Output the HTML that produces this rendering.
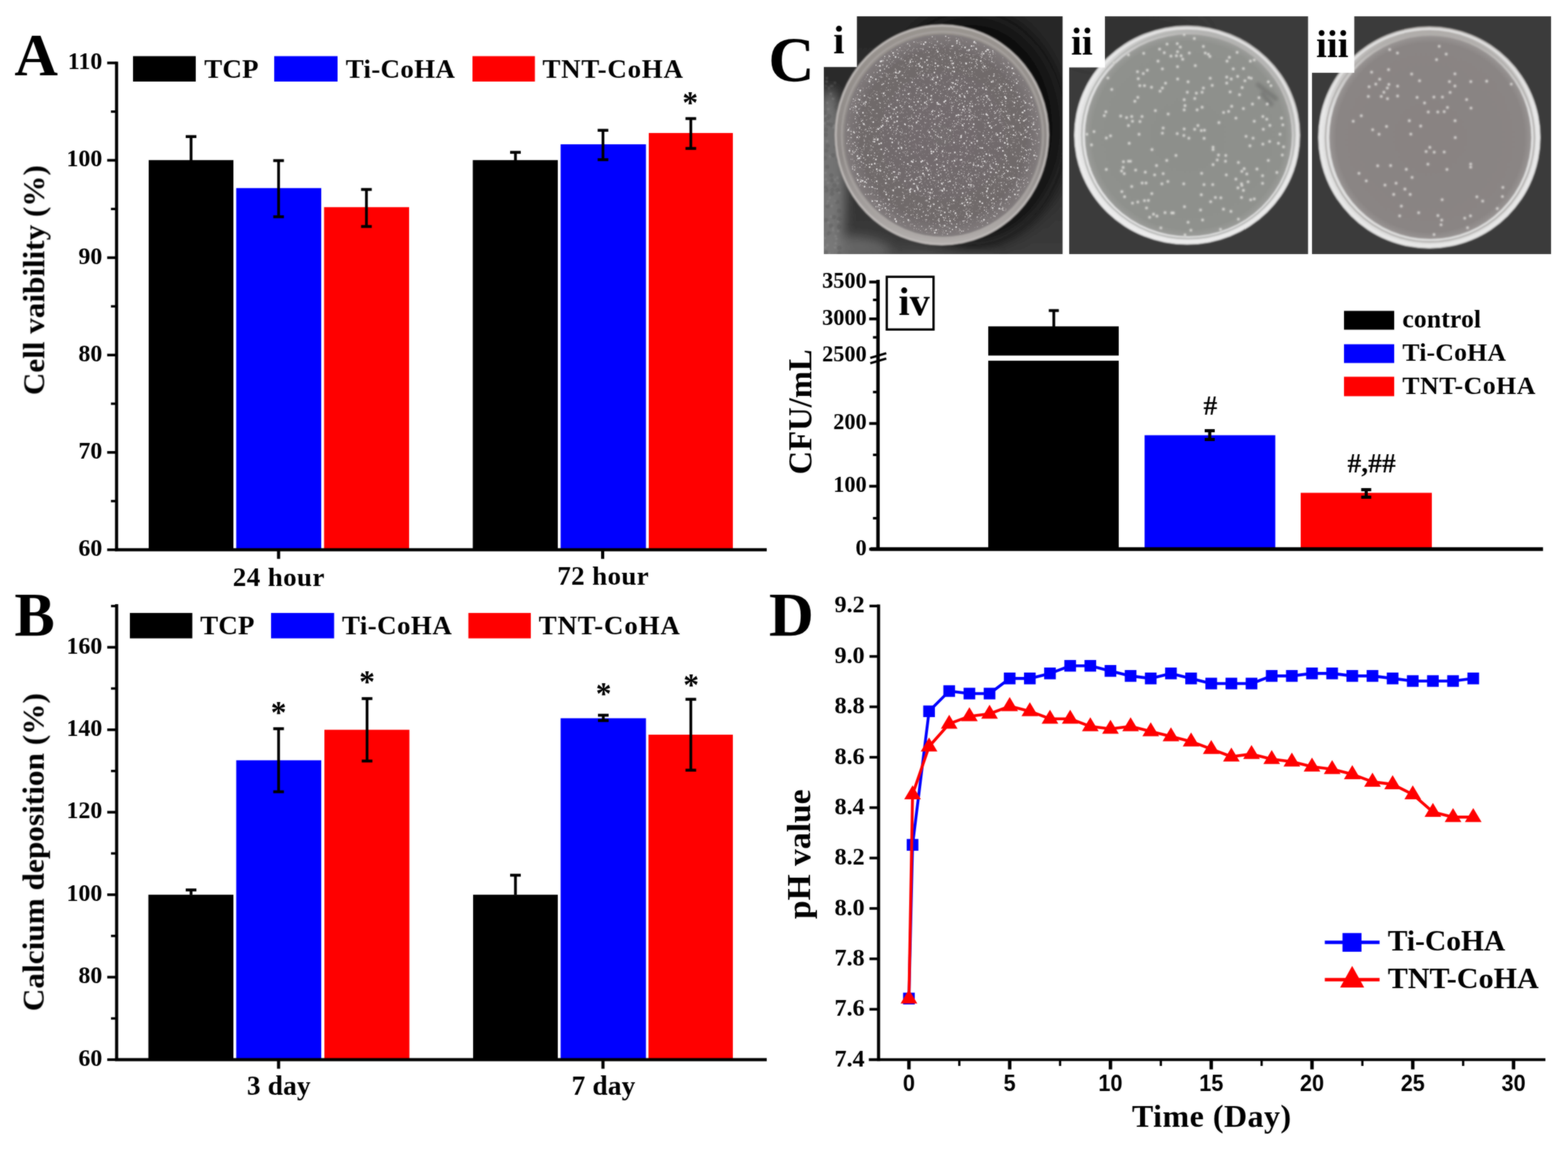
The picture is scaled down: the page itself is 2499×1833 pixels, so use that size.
<!DOCTYPE html>
<html lang="en">
<head>
<meta charset="utf-8">
<title>Figure: cell viability, calcium deposition, CFU and pH</title>
<style>
html,body{margin:0;padding:0;background:#fff;}
body{width:2499px;height:1833px;overflow:hidden;}
svg{display:block;}
svg text{font-family:"Liberation Serif", "DejaVu Serif", serif;font-weight:bold;fill:#000;}
svg text.sa{font-family:"Liberation Sans", "DejaVu Sans", sans-serif;}
</style>
</head>
<body>
<svg width="2499" height="1833" viewBox="0 0 2499 1833">
<defs>
<filter id="fA" filterUnits="userSpaceOnUse" x="0" y="0" width="1240" height="950" color-interpolation-filters="sRGB"><feGaussianBlur stdDeviation="0.8" result="b"/><feComposite in="SourceGraphic" in2="b" operator="arithmetic" k1="0" k2="0.5" k3="0.5" k4="0"/></filter>
<filter id="fB" filterUnits="userSpaceOnUse" x="0" y="940" width="1240" height="893" color-interpolation-filters="sRGB"><feGaussianBlur stdDeviation="0.8" result="b"/><feComposite in="SourceGraphic" in2="b" operator="arithmetic" k1="0" k2="0.5" k3="0.5" k4="0"/></filter>
<filter id="fC" filterUnits="userSpaceOnUse" x="1210" y="0" width="1289" height="910" color-interpolation-filters="sRGB"><feGaussianBlur stdDeviation="0.8" result="b"/><feComposite in="SourceGraphic" in2="b" operator="arithmetic" k1="0" k2="0.5" k3="0.5" k4="0"/></filter>
<filter id="fD" filterUnits="userSpaceOnUse" x="1210" y="930" width="1289" height="903" color-interpolation-filters="sRGB"><feGaussianBlur stdDeviation="0.8" result="b"/><feComposite in="SourceGraphic" in2="b" operator="arithmetic" k1="0" k2="0.5" k3="0.5" k4="0"/></filter>
</defs>
<rect width="2499" height="1833" fill="#fff"/>
<g id="panelA" filter="url(#fA)">
<rect x="237" y="255.2" width="135" height="621.1" fill="#000"/>
<rect x="376.5" y="299.8" width="135.5" height="576.5" fill="#00f"/>
<rect x="516.5" y="330.2" width="135.5" height="546.1" fill="#f00"/>
<rect x="753.5" y="255.2" width="135.5" height="621.1" fill="#000"/>
<rect x="893.5" y="230" width="136.0" height="646.3" fill="#00f"/>
<rect x="1034" y="212" width="134" height="664.3" fill="#f00"/>
<line x1="304.5" y1="217.7" x2="304.5" y2="256" stroke="#000" stroke-width="4.4"/>
<line x1="296.0" y1="217.7" x2="313.0" y2="217.7" stroke="#000" stroke-width="4.6"/>
<line x1="444" y1="256" x2="444" y2="345.5" stroke="#000" stroke-width="4.4"/>
<line x1="435.5" y1="256" x2="452.5" y2="256" stroke="#000" stroke-width="4.6"/>
<line x1="435.5" y1="345.5" x2="452.5" y2="345.5" stroke="#000" stroke-width="4.6"/>
<line x1="584" y1="302" x2="584" y2="361" stroke="#000" stroke-width="4.4"/>
<line x1="575.5" y1="302" x2="592.5" y2="302" stroke="#000" stroke-width="4.6"/>
<line x1="575.5" y1="361" x2="592.5" y2="361" stroke="#000" stroke-width="4.6"/>
<line x1="821.5" y1="242.8" x2="821.5" y2="256" stroke="#000" stroke-width="4.4"/>
<line x1="813.0" y1="242.8" x2="830.0" y2="242.8" stroke="#000" stroke-width="4.6"/>
<line x1="961" y1="207.7" x2="961" y2="254.5" stroke="#000" stroke-width="4.4"/>
<line x1="952.5" y1="207.7" x2="969.5" y2="207.7" stroke="#000" stroke-width="4.6"/>
<line x1="952.5" y1="254.5" x2="969.5" y2="254.5" stroke="#000" stroke-width="4.6"/>
<line x1="1101" y1="189" x2="1101" y2="236.6" stroke="#000" stroke-width="4.4"/>
<line x1="1092.5" y1="189" x2="1109.5" y2="189" stroke="#000" stroke-width="4.6"/>
<line x1="1092.5" y1="236.6" x2="1109.5" y2="236.6" stroke="#000" stroke-width="4.6"/>
<line x1="185.8" y1="98.3" x2="185.8" y2="878.3" stroke="#000" stroke-width="5"/>
<line x1="183.3" y1="876.3" x2="1222" y2="876.3" stroke="#000" stroke-width="5"/>
<line x1="170.8" y1="876.3" x2="185.8" y2="876.3" stroke="#000" stroke-width="4.2"/>
<text x="163" y="886.0999999999999" font-size="38" text-anchor="end">60</text>
<line x1="170.8" y1="721.1" x2="185.8" y2="721.1" stroke="#000" stroke-width="4.2"/>
<text x="163" y="730.9" font-size="38" text-anchor="end">70</text>
<line x1="170.8" y1="565.9" x2="185.8" y2="565.9" stroke="#000" stroke-width="4.2"/>
<text x="163" y="575.6999999999999" font-size="38" text-anchor="end">80</text>
<line x1="170.8" y1="410.7" x2="185.8" y2="410.7" stroke="#000" stroke-width="4.2"/>
<text x="163" y="420.5" font-size="38" text-anchor="end">90</text>
<line x1="170.8" y1="255.5" x2="185.8" y2="255.5" stroke="#000" stroke-width="4.2"/>
<text x="163" y="265.3" font-size="38" text-anchor="end">100</text>
<line x1="170.8" y1="100.3" x2="185.8" y2="100.3" stroke="#000" stroke-width="4.2"/>
<text x="163" y="110.1" font-size="38" text-anchor="end">110</text>
<line x1="176.8" y1="798.7" x2="185.8" y2="798.7" stroke="#000" stroke-width="3.8"/>
<line x1="176.8" y1="643.5" x2="185.8" y2="643.5" stroke="#000" stroke-width="3.8"/>
<line x1="176.8" y1="488.3" x2="185.8" y2="488.3" stroke="#000" stroke-width="3.8"/>
<line x1="176.8" y1="333.1" x2="185.8" y2="333.1" stroke="#000" stroke-width="3.8"/>
<line x1="176.8" y1="177.9" x2="185.8" y2="177.9" stroke="#000" stroke-width="3.8"/>
<line x1="444" y1="876.3" x2="444" y2="890.8" stroke="#000" stroke-width="5"/>
<line x1="960.5" y1="876.3" x2="960.5" y2="890.8" stroke="#000" stroke-width="5"/>
<text x="371" y="933.6" font-size="43" textLength="146" lengthAdjust="spacing">24 hour</text>
<text x="888.3" y="932.2" font-size="43" textLength="145.5" lengthAdjust="spacing">72 hour</text>
<rect x="212" y="89.5" width="100" height="40.5" fill="#000"/>
<text x="325.5" y="123.5" font-size="43" textLength="86.5" lengthAdjust="spacing">TCP</text>
<rect x="437" y="89.5" width="101" height="40.5" fill="#00f"/>
<text x="551" y="123.5" font-size="43" textLength="174" lengthAdjust="spacing">Ti-CoHA</text>
<rect x="753" y="89.5" width="99.5" height="40.5" fill="#f00"/>
<text x="864.5" y="123.5" font-size="43" textLength="224" lengthAdjust="spacing">TNT-CoHA</text>
<text x="1100" y="179.5" font-size="50" text-anchor="middle" font-weight="normal">*</text>
<text x="70" y="446.5" font-size="47.5" text-anchor="middle" transform="rotate(-90 70 446.5)" textLength="366.5" lengthAdjust="spacingAndGlyphs">Cell vaibility (%)</text>
<text x="23" y="119.5" font-size="96">A</text>
</g>
<g id="panelB" filter="url(#fB)">
<rect x="236.5" y="1426.1" width="135.5" height="262.9" fill="#000"/>
<rect x="376.5" y="1211.8" width="135.5" height="477.2" fill="#00f"/>
<rect x="517" y="1163.2" width="135.5" height="525.8" fill="#f00"/>
<rect x="754" y="1426.1" width="135" height="262.9" fill="#000"/>
<rect x="893.5" y="1144.8" width="136.0" height="544.2" fill="#00f"/>
<rect x="1033.5" y="1171.0" width="134.5" height="518.0" fill="#f00"/>
<line x1="304.5" y1="1418.5" x2="304.5" y2="1426" stroke="#000" stroke-width="4.4"/>
<line x1="296.0" y1="1418.5" x2="313.0" y2="1418.5" stroke="#000" stroke-width="4.6"/>
<line x1="444" y1="1161.5" x2="444" y2="1262" stroke="#000" stroke-width="4.4"/>
<line x1="435.5" y1="1161.5" x2="452.5" y2="1161.5" stroke="#000" stroke-width="4.6"/>
<line x1="435.5" y1="1262" x2="452.5" y2="1262" stroke="#000" stroke-width="4.6"/>
<line x1="585" y1="1113.5" x2="585" y2="1213" stroke="#000" stroke-width="4.4"/>
<line x1="576.5" y1="1113.5" x2="593.5" y2="1113.5" stroke="#000" stroke-width="4.6"/>
<line x1="576.5" y1="1213" x2="593.5" y2="1213" stroke="#000" stroke-width="4.6"/>
<line x1="821.5" y1="1395" x2="821.5" y2="1426" stroke="#000" stroke-width="4.4"/>
<line x1="813.0" y1="1395" x2="830.0" y2="1395" stroke="#000" stroke-width="4.6"/>
<line x1="961.5" y1="1140" x2="961.5" y2="1148.5" stroke="#000" stroke-width="4.4"/>
<line x1="953.0" y1="1140" x2="970.0" y2="1140" stroke="#000" stroke-width="4.6"/>
<line x1="953.0" y1="1148.5" x2="970.0" y2="1148.5" stroke="#000" stroke-width="4.6"/>
<line x1="1101" y1="1114.6" x2="1101" y2="1227.6" stroke="#000" stroke-width="4.4"/>
<line x1="1092.5" y1="1114.6" x2="1109.5" y2="1114.6" stroke="#000" stroke-width="4.6"/>
<line x1="1092.5" y1="1227.6" x2="1109.5" y2="1227.6" stroke="#000" stroke-width="4.6"/>
<line x1="185.9" y1="963" x2="185.9" y2="1691.0" stroke="#000" stroke-width="5"/>
<line x1="183.4" y1="1689.0" x2="1222" y2="1689.0" stroke="#000" stroke-width="5"/>
<line x1="170.9" y1="1689.0" x2="185.9" y2="1689.0" stroke="#000" stroke-width="4.2"/>
<text x="163" y="1698.8" font-size="38" text-anchor="end">60</text>
<line x1="170.9" y1="1557.5" x2="185.9" y2="1557.5" stroke="#000" stroke-width="4.2"/>
<text x="163" y="1567.3" font-size="38" text-anchor="end">80</text>
<line x1="170.9" y1="1426.1" x2="185.9" y2="1426.1" stroke="#000" stroke-width="4.2"/>
<text x="163" y="1435.8999999999999" font-size="38" text-anchor="end">100</text>
<line x1="170.9" y1="1294.6" x2="185.9" y2="1294.6" stroke="#000" stroke-width="4.2"/>
<text x="163" y="1304.3999999999999" font-size="38" text-anchor="end">120</text>
<line x1="170.9" y1="1163.2" x2="185.9" y2="1163.2" stroke="#000" stroke-width="4.2"/>
<text x="163" y="1173.0" font-size="38" text-anchor="end">140</text>
<line x1="170.9" y1="1031.7" x2="185.9" y2="1031.7" stroke="#000" stroke-width="4.2"/>
<text x="163" y="1041.5" font-size="38" text-anchor="end">160</text>
<line x1="176.9" y1="1623.3" x2="185.9" y2="1623.3" stroke="#000" stroke-width="3.8"/>
<line x1="176.9" y1="1491.8" x2="185.9" y2="1491.8" stroke="#000" stroke-width="3.8"/>
<line x1="176.9" y1="1360.3" x2="185.9" y2="1360.3" stroke="#000" stroke-width="3.8"/>
<line x1="176.9" y1="1228.9" x2="185.9" y2="1228.9" stroke="#000" stroke-width="3.8"/>
<line x1="176.9" y1="1097.4" x2="185.9" y2="1097.4" stroke="#000" stroke-width="3.8"/>
<line x1="176.9" y1="966.0" x2="185.9" y2="966.0" stroke="#000" stroke-width="3.8"/>
<line x1="444" y1="1689.0" x2="444" y2="1703.5" stroke="#000" stroke-width="5"/>
<line x1="961" y1="1689.0" x2="961" y2="1703.5" stroke="#000" stroke-width="5"/>
<text x="393.6" y="1745" font-size="43.5" textLength="101.4" lengthAdjust="spacing">3 day</text>
<text x="911" y="1745" font-size="43.5" textLength="101.4" lengthAdjust="spacing">7 day</text>
<rect x="207" y="977" width="99.5" height="40.5" fill="#000"/>
<text x="319" y="1011" font-size="43" textLength="86.5" lengthAdjust="spacing">TCP</text>
<rect x="432" y="977" width="100.5" height="40.5" fill="#00f"/>
<text x="545" y="1011" font-size="43" textLength="175" lengthAdjust="spacing">Ti-CoHA</text>
<rect x="746.5" y="977" width="99.5" height="40.5" fill="#f00"/>
<text x="858.5" y="1011" font-size="43" textLength="225" lengthAdjust="spacing">TNT-CoHA</text>
<text x="444" y="1151.5" font-size="50" text-anchor="middle" font-weight="normal">*</text>
<text x="585" y="1102.5" font-size="50" text-anchor="middle" font-weight="normal">*</text>
<text x="962" y="1121.5" font-size="50" text-anchor="middle" font-weight="normal">*</text>
<text x="1101.5" y="1107.5" font-size="50" text-anchor="middle" font-weight="normal">*</text>
<text x="70" y="1358.3" font-size="48.5" text-anchor="middle" transform="rotate(-90 70 1358.3)" textLength="507" lengthAdjust="spacingAndGlyphs">Calcium deposition (%)</text>
<text x="23" y="1012.5" font-size="99" textLength="64.3" lengthAdjust="spacingAndGlyphs">B</text>
</g>
<g id="panelC" filter="url(#fC)">
<defs>
<clipPath id="cp1"><rect x="1313" y="26" width="380.5" height="379"/></clipPath>
<clipPath id="cp2"><rect x="1704" y="26" width="380.7" height="379"/></clipPath>
<clipPath id="cp3"><rect x="2091" y="26" width="381" height="379"/></clipPath>
<filter id="bl8" x="-50%" y="-50%" width="200%" height="200%"><feGaussianBlur stdDeviation="14"/></filter>
<filter id="bl6" x="-50%" y="-50%" width="200%" height="200%"><feGaussianBlur stdDeviation="9"/></filter>
<linearGradient id="rim1" x1="0.5" y1="0" x2="0.5" y2="1"><stop offset="0" stop-color="#99948f"/><stop offset="0.6" stop-color="#8e8987"/><stop offset="1" stop-color="#b3afad"/></linearGradient>
<filter id="bl2" x="-50%" y="-50%" width="200%" height="200%"><feGaussianBlur stdDeviation="2"/></filter>
<filter id="soft" x="-2%" y="-2%" width="104%" height="104%"><feGaussianBlur stdDeviation="0.8"/></filter>
<linearGradient id="bg1" x1="0" y1="0" x2="0" y2="1"><stop offset="0" stop-color="#272727"/><stop offset="0.6" stop-color="#2e2e2e"/><stop offset="1" stop-color="#3c3c3c"/></linearGradient>
<radialGradient id="ag1" cx="0.5" cy="0.5" r="0.5"><stop offset="0" stop-color="#736c6e"/><stop offset="0.85" stop-color="#706a6b"/><stop offset="1" stop-color="#827c7d"/></radialGradient>
<radialGradient id="ag2" cx="0.5" cy="0.5" r="0.5"><stop offset="0" stop-color="#8d8f8b"/><stop offset="0.93" stop-color="#8f918d"/><stop offset="1" stop-color="#9b9c99"/></radialGradient>
<radialGradient id="ag3" cx="0.5" cy="0.5" r="0.5"><stop offset="0" stop-color="#898382"/><stop offset="0.93" stop-color="#8a8584"/><stop offset="1" stop-color="#989493"/></radialGradient>
<linearGradient id="rim2" x1="0.75" y1="0" x2="0.25" y2="1"><stop offset="0" stop-color="#a9a7a5"/><stop offset="0.45" stop-color="#e0e0e0"/><stop offset="1" stop-color="#e9e9e9"/></linearGradient>
<linearGradient id="rim3" x1="0.5" y1="0" x2="0.5" y2="1"><stop offset="0" stop-color="#aaa6a3"/><stop offset="0.4" stop-color="#e2e2e2"/><stop offset="1" stop-color="#dededd"/></linearGradient>
</defs>
<g clip-path="url(#cp1)"><g filter="url(#soft)">
<rect x="1305" y="18" width="396.5" height="395" fill="url(#bg1)"/>
<ellipse cx="1322" cy="290" rx="26" ry="150" fill="#8a8a8a" opacity="0.75" filter="url(#bl6)"/>
<ellipse cx="1345" cy="402" rx="75" ry="26" fill="#7a7a7a" opacity="0.7" filter="url(#bl6)"/>
<ellipse cx="1470" cy="410" rx="120" ry="14" fill="#555" opacity="0.6" filter="url(#bl6)"/>
<path d="M1324.9 279.5h0M1336.2 252.7h0M1326.2 287.4h0M1318.4 265.9h0M1329.1 346.0h0M1316.3 206.5h0M1316.2 350.7h0M1330.6 131.9h0M1337.6 395.0h0M1329.7 295.4h0M1317.8 124.3h0M1326.7 137.0h0M1318.6 189.0h0M1314.7 252.2h0M1324.6 360.1h0M1326.5 302.5h0M1326.0 308.8h0M1325.0 199.3h0M1337.9 403.8h0M1334.2 321.7h0M1321.6 185.5h0M1320.9 140.0h0M1332.4 234.1h0M1334.3 230.2h0M1337.0 361.5h0M1314.0 179.8h0M1335.8 253.9h0M1337.5 233.3h0M1315.8 299.4h0M1332.7 196.9h0M1316.1 214.8h0M1337.1 336.0h0M1316.8 190.2h0M1316.4 137.1h0M1333.1 170.6h0M1327.4 247.5h0M1318.6 328.6h0M1317.1 303.5h0M1316.8 239.9h0M1319.1 196.9h0M1337.3 349.0h0M1321.3 372.2h0M1319.1 232.4h0M1334.5 302.9h0M1316.4 402.0h0M1319.1 193.6h0M1332.5 213.8h0M1321.1 140.9h0M1316.2 286.1h0M1319.8 291.4h0M1322.9 249.2h0M1337.0 257.9h0M1327.8 367.0h0M1318.4 163.9h0M1335.8 353.1h0M1320.0 174.1h0M1331.7 388.0h0M1318.7 390.8h0M1335.2 292.0h0M1324.1 149.6h0M1314.9 394.4h0M1319.7 320.8h0M1320.2 354.8h0M1328.3 203.6h0M1318.2 325.3h0M1315.7 185.1h0M1327.4 362.9h0M1328.7 199.9h0M1336.0 178.1h0M1314.4 196.7h0M1324.7 137.2h0M1318.2 225.1h0M1327.7 157.5h0M1322.7 373.9h0M1337.5 307.2h0M1330.6 286.6h0M1317.4 130.0h0M1314.4 379.4h0M1330.8 394.4h0M1314.5 301.3h0M1325.6 328.2h0M1321.7 404.8h0M1315.8 275.6h0M1331.7 376.6h0M1331.7 320.6h0M1333.0 380.8h0M1322.4 315.3h0M1335.6 368.3h0M1324.0 345.3h0M1334.7 283.3h0" fill="none" stroke="#a5a5a5" stroke-width="3.5" stroke-linecap="round" stroke-opacity="0.35"/>
<path d="M1324.9 279.5h0M1336.2 252.7h0M1326.2 287.4h0M1318.4 265.9h0M1329.1 346.0h0M1316.3 206.5h0M1316.2 350.7h0M1330.6 131.9h0M1337.6 395.0h0M1329.7 295.4h0M1317.8 124.3h0M1326.7 137.0h0M1318.6 189.0h0M1314.7 252.2h0M1324.6 360.1h0M1326.5 302.5h0M1326.0 308.8h0M1325.0 199.3h0M1337.9 403.8h0M1334.2 321.7h0M1321.6 185.5h0M1320.9 140.0h0M1332.4 234.1h0M1334.3 230.2h0M1337.0 361.5h0M1314.0 179.8h0M1335.8 253.9h0M1337.5 233.3h0M1315.8 299.4h0M1332.7 196.9h0M1316.1 214.8h0M1337.1 336.0h0M1316.8 190.2h0M1316.4 137.1h0M1333.1 170.6h0M1327.4 247.5h0M1318.6 328.6h0M1317.1 303.5h0M1316.8 239.9h0M1319.1 196.9h0M1337.3 349.0h0M1321.3 372.2h0M1319.1 232.4h0M1334.5 302.9h0M1316.4 402.0h0" fill="none" stroke="#2a2a2a" stroke-width="6" stroke-linecap="round" stroke-opacity="0.25"/>
<ellipse cx="1548" cy="205" rx="150" ry="185" fill="#080808" opacity="0.92" filter="url(#bl8)"/>
<ellipse cx="1501" cy="215" rx="171" ry="176" fill="url(#rim1)"/>
<ellipse cx="1501" cy="215" rx="169" ry="174" fill="none" stroke="#c2bebc" stroke-width="2.5"/>
<ellipse cx="1502" cy="215.5" rx="160.5" ry="165" fill="none" stroke="#aaa5a3" stroke-width="2"/>
<ellipse cx="1502.5" cy="216" rx="157" ry="161.5" fill="url(#ag1)"/>
</g>
<path d="M1603.8 267.0h0M1605.0 256.2h0M1465.3 233.0h0M1377.9 281.8h0M1639.1 258.4h0M1535.1 258.8h0M1537.2 230.9h0M1459.9 122.1h0M1413.5 161.4h0M1537.9 88.6h0M1564.7 306.5h0M1606.1 231.2h0M1555.2 273.3h0M1555.8 152.9h0M1540.2 270.1h0M1501.7 226.1h0M1426.6 278.7h0M1477.0 186.5h0M1518.4 277.7h0M1504.7 216.8h0M1577.1 272.9h0M1587.5 127.8h0M1501.2 309.4h0M1397.8 239.4h0M1574.7 271.6h0M1531.9 160.0h0M1609.2 181.1h0M1496.0 311.7h0M1557.6 92.0h0M1411.2 205.5h0M1582.7 230.6h0M1454.8 271.9h0M1423.7 99.8h0M1502.6 106.4h0M1597.9 198.3h0M1626.4 171.7h0M1626.4 200.1h0M1449.3 198.7h0M1535.1 151.4h0M1496.6 318.4h0M1374.3 168.1h0M1431.2 186.8h0M1609.2 108.3h0M1570.3 250.2h0M1531.0 367.9h0M1466.3 275.4h0M1483.2 223.8h0M1424.0 136.3h0M1565.3 266.0h0M1517.0 134.9h0M1386.1 159.1h0M1506.2 268.3h0M1568.2 238.2h0M1457.0 346.0h0M1437.5 216.0h0M1579.1 225.0h0M1490.4 99.0h0M1355.5 240.2h0M1444.3 70.8h0M1427.5 268.7h0M1500.3 280.0h0M1487.4 292.4h0M1468.9 304.1h0M1535.7 323.3h0M1498.4 263.3h0M1524.8 222.2h0M1572.2 147.9h0M1450.0 95.6h0M1557.6 227.2h0M1501.9 259.2h0M1609.5 199.1h0M1410.9 130.8h0M1463.6 328.5h0M1457.5 94.2h0M1609.6 317.5h0M1650.1 195.0h0M1426.7 241.7h0M1600.4 129.3h0M1588.4 149.8h0M1484.0 272.3h0M1445.6 348.9h0M1503.2 70.8h0M1479.2 309.7h0M1620.7 215.1h0M1429.8 252.3h0M1615.4 302.4h0M1573.2 184.8h0M1435.6 211.2h0M1378.1 175.1h0M1451.8 149.2h0M1466.4 328.3h0M1533.2 271.3h0M1592.7 153.7h0M1545.7 269.5h0M1477.1 256.1h0M1502.3 114.2h0M1409.0 201.3h0M1549.1 160.1h0M1503.0 268.3h0M1392.2 247.2h0M1450.7 146.8h0M1419.3 166.9h0M1489.8 206.4h0M1581.6 143.1h0M1456.9 124.6h0M1429.0 83.6h0M1495.0 103.6h0M1530.4 285.2h0M1426.4 83.0h0M1524.5 244.1h0M1434.4 283.0h0M1506.5 223.4h0M1412.9 340.5h0M1570.9 199.9h0M1603.4 249.2h0M1561.7 182.3h0M1523.9 199.4h0M1553.6 87.6h0M1469.7 292.1h0M1525.0 207.4h0M1354.3 222.3h0M1519.6 93.8h0M1503.2 256.3h0M1616.3 110.7h0M1476.8 113.4h0M1604.7 316.3h0M1526.5 290.9h0M1415.0 86.4h0M1529.1 199.7h0M1373.8 139.7h0M1571.3 136.8h0M1528.5 64.2h0M1402.7 145.1h0M1463.2 259.8h0M1507.2 232.2h0M1473.7 154.6h0M1547.7 235.5h0M1385.4 176.7h0M1568.8 329.2h0M1458.2 326.3h0M1378.7 282.2h0M1580.0 143.7h0M1427.2 297.7h0M1569.4 201.5h0M1642.4 266.2h0M1575.4 334.8h0M1531.9 283.6h0M1407.7 205.0h0M1639.5 250.4h0M1522.0 110.6h0M1452.8 224.7h0M1394.4 323.3h0M1581.6 342.1h0M1564.1 181.1h0M1415.6 212.6h0M1440.2 80.4h0M1394.2 303.3h0M1619.3 208.8h0M1511.9 111.0h0M1394.9 149.7h0M1530.8 216.3h0M1546.8 180.9h0M1489.4 196.6h0M1471.7 256.9h0M1601.2 330.9h0M1596.5 114.6h0M1503.9 366.7h0M1406.3 196.1h0M1629.4 266.2h0M1360.7 167.6h0M1415.0 105.0h0M1471.7 296.9h0M1510.0 266.8h0M1529.2 104.7h0M1407.5 94.8h0M1516.4 202.6h0M1484.0 97.8h0M1531.3 337.5h0M1552.1 184.0h0M1618.8 310.9h0M1518.9 236.9h0M1631.0 137.1h0M1516.7 267.0h0M1558.1 103.8h0M1579.9 226.5h0M1482.6 122.1h0M1482.5 197.1h0M1377.8 270.2h0M1470.8 104.4h0M1505.2 221.0h0M1514.1 59.7h0M1545.8 318.2h0M1530.6 93.8h0M1626.9 293.0h0M1451.4 289.8h0M1558.9 164.9h0M1536.8 267.7h0M1451.0 317.5h0M1543.3 335.4h0M1528.4 311.1h0M1577.7 311.8h0M1455.4 331.9h0M1385.9 250.7h0M1435.3 79.7h0M1425.8 100.6h0M1350.8 226.0h0M1605.8 174.3h0M1534.1 343.0h0M1480.0 245.7h0M1488.1 226.8h0M1389.5 279.4h0M1606.4 173.6h0M1533.1 121.9h0M1525.2 369.8h0M1601.8 318.4h0M1549.6 149.9h0M1500.3 319.4h0M1633.3 218.3h0M1489.9 201.6h0M1621.5 177.7h0M1549.2 251.7h0M1517.4 124.0h0M1615.4 136.1h0M1587.4 136.6h0M1600.7 254.9h0M1553.3 134.2h0M1441.4 76.5h0M1465.2 355.0h0M1460.3 294.0h0M1469.6 206.1h0M1372.7 252.2h0M1609.5 150.0h0M1516.6 276.0h0M1629.8 219.9h0M1508.9 351.6h0M1583.5 109.3h0M1499.1 199.4h0M1421.2 99.7h0M1453.3 341.5h0M1571.5 131.3h0M1462.0 78.0h0M1501.2 222.4h0M1443.7 77.1h0M1434.2 231.6h0M1445.8 179.3h0M1556.9 336.3h0M1440.2 310.5h0M1386.9 226.3h0M1501.7 246.8h0M1521.3 257.6h0M1641.4 166.8h0M1423.3 158.3h0M1421.8 282.0h0M1652.3 182.3h0M1578.1 235.3h0M1410.1 90.7h0M1505.0 164.6h0M1539.3 283.5h0M1430.8 139.0h0M1547.7 274.3h0M1476.6 101.1h0M1557.2 156.6h0M1441.8 353.1h0M1484.9 294.4h0M1545.4 193.5h0M1461.4 367.0h0M1534.0 129.3h0M1525.6 333.4h0M1516.7 258.1h0M1418.4 145.7h0M1546.9 103.9h0M1623.3 270.4h0M1360.2 237.7h0M1557.4 349.0h0M1560.7 81.2h0M1513.3 282.8h0M1502.1 359.3h0M1608.3 291.5h0M1374.7 196.9h0M1591.5 117.9h0M1492.5 270.4h0M1517.6 125.1h0M1646.2 175.9h0M1394.4 275.2h0M1480.3 215.3h0M1490.0 345.9h0M1581.2 190.2h0M1608.7 185.0h0M1392.5 240.3h0M1542.2 256.3h0M1433.7 263.2h0M1474.4 288.4h0M1469.3 369.8h0M1511.0 153.5h0M1573.0 139.9h0M1498.2 153.9h0M1376.1 251.2h0M1413.8 290.9h0M1399.9 216.3h0M1516.0 207.3h0M1454.7 208.1h0M1553.2 115.2h0M1435.7 213.9h0M1420.7 126.2h0M1625.3 211.0h0M1386.5 290.3h0M1499.0 206.8h0M1619.2 213.8h0M1540.7 247.1h0M1515.9 179.0h0M1464.0 267.8h0M1442.4 302.4h0M1366.0 229.8h0M1545.1 300.1h0M1586.9 292.5h0M1470.2 239.2h0M1544.4 132.5h0M1532.1 294.7h0M1625.0 244.1h0M1574.6 326.6h0M1485.2 359.7h0M1394.6 324.4h0M1606.8 181.8h0M1536.0 360.0h0M1389.4 206.5h0M1424.3 179.5h0M1448.4 332.4h0M1491.0 254.9h0M1557.1 277.5h0M1448.8 99.3h0M1503.9 361.8h0M1457.2 167.1h0M1532.3 224.0h0M1529.7 298.7h0M1466.0 130.2h0M1571.0 95.5h0M1575.3 239.0h0M1596.0 315.4h0M1462.1 80.0h0M1428.5 194.4h0M1440.6 295.2h0M1466.5 148.2h0M1575.1 308.6h0M1564.8 272.2h0M1512.7 253.5h0M1461.4 265.3h0M1501.8 294.6h0M1586.4 90.2h0M1406.8 321.8h0M1614.3 279.5h0M1360.4 270.5h0M1601.4 242.1h0M1418.7 179.7h0M1421.1 303.0h0M1388.8 193.7h0M1519.6 334.6h0M1384.8 205.9h0M1377.4 162.2h0M1508.5 178.5h0M1527.2 166.6h0M1617.7 249.2h0M1370.9 173.1h0M1615.4 157.1h0M1457.2 189.9h0M1608.4 306.7h0M1519.7 210.1h0M1511.5 187.6h0M1555.3 97.2h0M1581.0 257.7h0M1595.4 140.8h0M1417.6 170.1h0M1619.6 220.5h0M1650.3 173.8h0M1380.0 208.9h0M1409.3 184.3h0M1409.8 227.2h0M1511.2 309.2h0M1393.1 256.1h0M1521.8 251.6h0M1464.8 193.6h0M1368.6 139.7h0M1489.9 295.4h0M1521.8 314.2h0M1566.3 150.7h0M1408.1 98.7h0M1397.4 289.2h0M1595.2 252.0h0M1488.2 126.3h0M1436.8 113.3h0M1513.8 76.9h0M1426.6 100.5h0M1524.2 230.2h0M1564.5 355.8h0M1557.1 185.8h0M1379.7 216.8h0M1535.1 113.9h0M1615.9 266.9h0M1451.6 162.2h0M1494.7 320.1h0M1456.5 366.8h0M1538.7 140.4h0M1357.7 229.6h0M1375.4 144.9h0M1586.5 213.2h0M1618.7 316.9h0M1514.1 319.3h0M1654.6 235.7h0M1568.8 294.2h0M1450.9 215.8h0M1354.9 219.6h0M1493.1 133.8h0M1498.8 257.4h0M1482.9 117.9h0M1369.8 292.0h0M1428.4 282.9h0M1448.4 270.3h0M1441.7 359.1h0M1374.0 129.4h0M1411.3 116.7h0M1406.3 131.1h0M1424.2 131.4h0M1430.8 226.9h0M1365.7 191.4h0M1524.1 191.7h0M1571.2 91.3h0M1546.4 281.4h0M1458.8 229.7h0M1577.2 321.7h0M1428.1 206.0h0M1451.5 298.6h0M1537.9 330.1h0M1559.2 337.0h0M1433.2 150.8h0M1536.6 128.7h0M1372.1 143.7h0M1630.3 192.1h0M1457.8 137.5h0M1365.4 250.2h0M1438.9 96.3h0M1518.8 77.9h0M1476.6 109.1h0M1655.5 222.0h0M1495.8 304.4h0M1472.0 233.2h0M1499.4 287.2h0M1385.1 224.4h0M1469.8 203.6h0M1366.8 266.4h0M1389.9 267.3h0M1464.5 139.3h0M1515.6 264.5h0M1534.6 65.0h0M1478.8 158.6h0M1454.2 323.8h0M1480.8 234.1h0M1387.7 271.7h0M1354.0 219.3h0M1458.2 204.1h0M1523.7 366.8h0M1379.3 125.3h0M1619.7 172.0h0M1451.0 308.1h0M1416.2 155.2h0M1581.6 304.9h0M1414.0 307.4h0M1574.7 350.6h0M1580.4 289.0h0M1395.6 191.1h0M1534.1 311.3h0M1357.2 214.3h0M1387.0 159.7h0M1502.5 153.9h0M1464.6 360.4h0M1530.0 85.4h0M1359.0 252.2h0M1594.5 178.7h0M1476.6 160.4h0M1546.1 270.5h0M1579.8 100.1h0M1484.0 124.3h0M1451.2 93.3h0M1633.2 164.4h0M1466.1 279.0h0M1570.3 112.6h0M1594.9 306.1h0M1531.7 155.0h0M1592.0 190.9h0M1349.5 209.3h0M1369.6 256.2h0M1574.1 129.5h0M1402.8 334.3h0M1484.8 80.0h0M1473.0 200.1h0M1500.5 89.1h0M1545.3 93.3h0M1565.5 90.5h0M1571.9 332.0h0M1489.0 249.9h0M1563.5 266.9h0M1388.8 318.5h0M1503.8 132.8h0M1599.8 158.9h0M1412.0 338.2h0M1505.5 85.5h0M1520.7 166.6h0M1454.2 85.7h0M1626.0 166.0h0M1394.6 304.9h0M1562.4 284.6h0M1444.7 111.2h0M1536.3 75.1h0M1441.0 162.1h0M1391.1 129.0h0M1519.3 289.0h0M1420.6 318.3h0M1548.9 139.3h0M1463.0 173.2h0M1530.0 354.3h0M1635.9 242.6h0M1402.3 213.0h0M1552.9 69.5h0M1475.7 112.8h0M1538.5 309.5h0M1495.2 177.0h0M1448.4 156.6h0M1491.4 247.3h0M1455.2 230.1h0M1364.4 237.4h0M1522.1 293.0h0M1514.2 229.4h0M1421.0 166.2h0M1602.2 252.0h0M1441.9 97.5h0M1512.3 186.8h0M1511.4 368.6h0M1571.5 176.5h0M1635.6 231.8h0M1630.4 193.6h0M1477.8 312.6h0M1541.8 116.7h0M1585.7 97.7h0M1504.0 202.9h0M1399.4 202.5h0M1570.4 101.5h0M1381.6 263.7h0M1474.1 304.9h0M1490.8 294.3h0M1455.0 331.6h0M1355.3 179.8h0M1446.6 71.1h0M1504.0 137.0h0M1628.6 238.8h0M1473.7 133.8h0M1519.5 223.8h0M1627.9 191.0h0M1510.4 149.6h0M1378.9 261.9h0M1640.1 243.7h0M1499.9 231.5h0M1395.5 149.0h0M1509.1 255.8h0M1416.8 317.8h0M1520.8 138.7h0M1451.6 208.4h0M1525.9 134.8h0M1509.3 141.3h0M1521.0 312.4h0M1532.0 244.0h0M1428.0 203.9h0M1549.3 161.1h0M1437.6 223.8h0M1439.2 122.8h0M1403.9 327.2h0M1564.9 252.4h0M1449.0 238.2h0M1398.9 291.4h0M1623.7 209.6h0M1459.7 307.0h0M1491.1 195.1h0M1576.0 338.8h0M1382.3 165.3h0M1376.1 142.9h0M1484.8 368.7h0M1642.1 264.3h0M1584.9 225.4h0M1439.6 122.8h0M1499.8 293.0h0M1377.2 196.5h0M1437.8 90.9h0M1570.2 197.1h0M1644.4 180.1h0M1508.3 159.7h0M1519.9 295.8h0M1628.3 230.4h0M1460.2 66.4h0M1511.1 129.5h0M1586.1 130.1h0M1496.8 257.5h0M1562.1 333.1h0M1523.8 214.2h0M1641.5 153.7h0M1445.6 314.5h0M1410.0 270.4h0M1544.5 231.5h0M1443.7 309.2h0M1606.5 164.8h0M1575.3 324.6h0M1521.5 142.3h0M1442.6 114.0h0M1543.9 329.2h0M1452.1 158.0h0M1631.1 242.0h0M1392.6 116.7h0M1455.5 335.6h0M1526.1 131.2h0M1436.0 232.8h0M1391.4 211.1h0M1534.5 242.0h0M1470.8 80.8h0M1449.4 152.6h0M1648.4 198.1h0M1384.1 242.5h0M1460.9 233.8h0M1628.0 302.7h0M1470.6 350.9h0M1534.6 242.1h0M1364.7 187.2h0M1474.1 263.4h0M1554.3 206.4h0M1496.9 159.2h0M1461.9 282.9h0M1352.1 246.3h0M1555.8 144.9h0M1499.5 123.4h0M1493.2 311.4h0M1445.5 293.8h0M1523.5 365.6h0M1399.2 315.0h0M1531.4 71.2h0M1461.1 282.7h0M1508.4 257.7h0M1396.1 203.2h0M1594.3 127.8h0M1482.0 114.3h0M1603.8 211.0h0M1465.4 68.0h0M1511.1 68.6h0M1564.8 182.8h0M1397.5 207.0h0M1501.7 138.8h0M1460.2 232.4h0M1539.3 91.1h0M1433.1 335.0h0M1522.0 276.4h0M1440.0 157.0h0M1511.3 261.3h0M1458.6 319.1h0M1540.6 331.5h0M1598.2 195.3h0M1488.4 62.3h0M1395.5 146.1h0M1609.9 176.1h0M1510.4 191.4h0M1395.0 230.3h0M1520.1 137.1h0M1424.0 195.8h0M1569.5 225.5h0M1522.7 158.9h0M1362.1 168.2h0M1592.9 168.7h0M1500.8 69.1h0M1377.7 126.3h0M1553.5 235.2h0M1470.8 94.5h0M1431.5 78.1h0M1603.1 202.3h0M1631.8 211.7h0M1528.1 271.9h0M1590.2 132.7h0M1601.7 155.5h0M1464.2 304.9h0M1446.7 341.5h0M1567.2 266.2h0M1530.1 341.0h0M1580.4 319.2h0M1586.0 308.8h0M1503.3 359.1h0M1420.3 343.6h0M1593.4 324.3h0M1545.2 319.1h0M1447.4 91.5h0M1410.1 182.4h0M1511.3 94.7h0M1492.3 240.7h0M1426.0 310.8h0M1532.6 324.6h0M1501.0 209.5h0M1366.8 285.5h0M1489.3 209.8h0M1571.6 221.9h0M1435.1 355.5h0M1494.9 276.5h0M1410.1 332.5h0M1541.0 265.0h0M1385.5 141.1h0M1405.6 276.9h0M1596.0 252.8h0M1450.5 175.0h0M1579.6 261.1h0M1443.0 133.0h0M1353.9 204.3h0M1550.5 288.3h0M1519.0 245.2h0M1573.8 111.6h0M1479.7 105.2h0M1625.3 297.8h0M1519.1 314.6h0M1447.4 242.4h0M1544.3 115.8h0M1568.8 274.6h0M1389.0 148.9h0M1583.6 121.0h0M1593.0 119.4h0M1410.2 304.6h0M1413.6 225.8h0M1384.7 208.0h0M1393.0 279.1h0M1443.8 276.3h0M1449.0 284.3h0M1506.4 80.3h0M1497.1 254.7h0M1514.1 307.2h0M1443.0 359.9h0M1580.4 150.3h0M1515.9 120.0h0M1586.1 155.7h0M1438.2 170.9h0M1429.4 278.2h0M1409.4 315.8h0M1450.4 102.8h0M1424.5 175.3h0M1448.7 212.5h0M1465.1 310.8h0M1511.1 362.4h0M1421.8 165.3h0M1542.3 79.3h0M1592.0 248.8h0M1359.7 273.7h0M1433.5 233.3h0M1541.2 242.5h0M1402.5 262.4h0M1403.5 322.1h0M1568.7 150.1h0M1415.7 137.4h0M1632.3 294.4h0M1439.9 293.1h0M1367.1 254.4h0M1499.8 189.3h0M1396.7 218.0h0M1495.7 343.1h0M1457.8 324.2h0M1382.2 229.0h0M1380.4 160.0h0M1489.3 237.7h0M1547.1 259.6h0M1551.5 90.1h0M1393.7 120.5h0M1504.3 348.1h0M1567.9 149.4h0M1409.8 279.9h0M1418.6 329.8h0M1418.7 300.2h0M1404.6 141.3h0M1520.8 262.7h0M1443.1 212.3h0M1566.6 142.6h0M1550.4 325.9h0M1361.7 212.6h0M1564.7 185.9h0M1530.0 353.2h0M1575.4 240.6h0M1557.4 265.2h0M1531.6 60.7h0M1632.9 247.5h0M1590.1 174.3h0M1554.2 120.4h0M1381.6 299.1h0M1531.2 182.4h0M1613.9 109.1h0M1447.8 226.8h0M1472.0 84.4h0M1603.9 230.4h0M1429.3 163.3h0M1601.0 306.0h0M1458.2 265.4h0M1403.3 215.2h0M1427.1 286.1h0M1493.3 267.6h0M1365.9 262.7h0M1377.3 266.6h0M1637.6 159.4h0M1410.3 177.8h0M1364.1 268.0h0M1391.3 147.2h0M1547.7 192.0h0M1497.9 194.5h0M1576.6 293.9h0M1544.8 276.8h0M1593.5 324.9h0M1629.5 255.7h0M1534.4 178.0h0M1483.6 326.0h0M1371.9 212.7h0M1378.6 294.4h0M1628.1 286.6h0M1495.6 340.2h0M1376.0 247.2h0M1427.1 110.0h0M1557.1 360.8h0M1495.0 88.4h0M1402.3 167.9h0M1523.6 305.3h0M1575.9 326.9h0M1476.6 293.5h0M1603.8 223.9h0M1645.0 227.7h0M1653.4 216.4h0M1502.0 240.7h0M1603.0 319.0h0M1370.4 172.0h0M1425.6 195.8h0M1434.2 351.5h0M1372.1 248.8h0M1572.7 354.5h0M1594.5 265.0h0M1438.2 176.1h0M1571.8 214.4h0M1549.5 219.7h0M1487.4 207.4h0M1493.6 340.5h0M1539.6 99.5h0M1569.5 82.9h0M1418.6 170.6h0M1511.0 91.9h0M1460.6 67.9h0M1440.8 350.1h0M1525.9 142.5h0M1504.4 329.8h0M1424.1 333.0h0M1583.8 251.7h0M1529.8 145.5h0M1596.6 109.4h0M1578.2 79.4h0M1576.9 84.6h0M1428.7 182.1h0M1511.2 128.7h0M1527.1 157.9h0M1418.3 336.8h0M1622.2 277.2h0M1480.5 176.2h0M1428.1 89.2h0M1476.7 224.7h0M1569.1 286.5h0M1475.9 349.5h0M1433.7 132.0h0M1371.9 156.0h0M1609.1 209.5h0M1580.0 89.3h0M1613.3 156.3h0M1403.9 318.5h0M1504.2 107.5h0M1631.6 299.2h0M1469.0 254.8h0M1600.9 204.8h0M1512.0 251.4h0M1393.2 189.0h0M1461.2 154.1h0M1509.6 284.0h0M1382.0 190.3h0M1529.0 84.4h0M1516.8 348.2h0M1391.9 324.8h0M1399.3 305.8h0M1506.3 105.2h0M1488.9 87.1h0M1530.2 299.6h0M1601.6 308.0h0M1519.5 211.1h0M1492.6 288.3h0M1466.7 256.6h0M1580.4 237.2h0M1568.9 308.7h0M1537.7 172.8h0M1502.0 93.1h0M1389.6 289.2h0M1365.9 241.4h0M1485.6 93.8h0M1534.5 139.6h0M1573.5 177.8h0M1442.5 111.9h0M1374.4 295.9h0M1394.7 220.9h0M1365.0 205.1h0M1573.6 143.9h0M1349.8 203.5h0M1590.3 225.5h0M1573.4 288.0h0M1460.6 344.3h0M1553.7 68.4h0M1397.4 265.0h0M1424.5 281.4h0M1548.1 207.6h0M1424.3 163.6h0M1479.0 321.4h0M1533.0 112.0h0M1495.9 161.1h0M1438.4 316.2h0M1373.5 269.0h0M1444.2 145.2h0M1584.4 299.5h0M1480.6 354.4h0M1536.7 275.9h0M1522.6 305.0h0M1370.6 284.6h0M1443.5 272.0h0M1394.1 244.1h0M1465.6 233.0h0M1466.9 286.0h0M1473.0 172.0h0M1497.1 361.8h0M1488.2 264.1h0M1468.5 139.4h0M1633.2 297.5h0M1433.2 155.2h0M1365.8 275.8h0M1551.8 258.4h0M1638.0 253.6h0M1513.5 160.3h0M1578.3 110.1h0M1449.1 85.9h0M1572.6 322.6h0M1544.2 263.9h0M1560.0 269.9h0M1564.3 152.4h0M1469.7 125.5h0M1536.6 130.6h0M1425.0 321.2h0M1529.2 132.9h0M1553.6 362.5h0M1627.2 297.4h0M1517.6 221.2h0M1610.6 136.0h0M1528.3 88.0h0M1354.1 187.7h0M1537.4 166.5h0M1471.1 75.9h0M1626.4 211.3h0M1406.7 177.9h0M1550.7 241.4h0M1578.8 82.1h0M1506.6 239.9h0M1607.4 256.0h0M1438.1 220.9h0M1490.6 59.2h0M1594.0 219.7h0M1425.4 344.5h0M1384.1 139.2h0M1548.3 196.2h0M1492.5 334.2h0M1624.6 301.5h0M1472.5 127.7h0M1603.1 164.4h0M1434.2 88.6h0M1370.2 163.2h0M1441.0 241.4h0M1417.8 159.6h0M1611.3 289.4h0M1549.8 171.2h0M1505.7 93.4h0M1603.0 228.1h0M1372.7 133.6h0M1616.8 276.0h0M1440.9 342.4h0M1457.3 131.5h0M1419.8 184.3h0M1412.2 116.4h0M1446.2 68.6h0M1548.9 162.9h0M1541.6 212.0h0M1616.5 160.6h0M1544.6 356.1h0M1579.4 218.0h0M1582.9 140.3h0M1607.8 304.6h0M1491.0 83.9h0M1443.8 151.1h0M1601.2 160.8h0M1453.5 294.9h0M1602.0 218.7h0M1516.4 162.8h0M1566.4 278.0h0M1618.6 283.7h0M1596.9 254.7h0M1368.7 198.5h0M1493.1 96.4h0M1463.5 198.0h0M1482.2 267.6h0M1439.5 266.5h0M1516.9 161.6h0M1524.1 342.6h0M1609.9 229.9h0M1497.2 313.8h0M1581.0 217.3h0M1457.9 307.1h0M1494.5 105.0h0M1473.4 244.9h0M1622.5 279.9h0M1561.6 84.8h0M1468.0 148.1h0M1613.6 299.3h0M1539.2 284.2h0M1477.1 177.0h0M1408.5 153.2h0M1621.0 283.4h0M1407.6 154.7h0M1598.3 177.3h0M1459.5 253.3h0M1361.3 159.1h0M1365.2 222.0h0M1549.5 269.3h0M1387.7 190.1h0M1471.5 364.5h0M1479.2 363.9h0M1470.7 78.7h0M1374.5 150.1h0M1397.9 229.4h0M1616.3 181.0h0M1545.8 169.6h0M1400.2 242.9h0M1480.0 102.1h0M1542.8 212.1h0M1517.3 149.3h0M1507.2 250.3h0M1422.7 322.1h0M1390.0 204.4h0M1412.3 165.1h0M1564.5 100.7h0M1530.2 238.4h0M1459.4 184.2h0M1512.3 203.5h0M1580.2 202.2h0M1517.1 103.0h0M1523.8 342.2h0M1551.7 325.8h0M1374.3 238.3h0M1410.7 216.3h0M1452.8 106.0h0M1518.5 294.6h0M1601.7 173.2h0M1506.1 169.3h0M1563.6 110.3h0M1498.8 202.9h0M1539.4 299.0h0M1602.0 172.6h0M1486.3 142.1h0M1378.2 228.9h0M1482.1 370.8h0M1514.2 129.2h0M1555.0 336.6h0M1417.1 294.4h0M1606.7 145.9h0M1508.7 70.9h0M1424.1 266.7h0M1363.9 174.3h0M1424.2 217.3h0M1626.3 125.7h0M1453.0 211.4h0M1509.7 120.7h0M1572.1 160.6h0M1544.0 334.9h0M1379.8 164.9h0M1415.7 122.0h0M1538.1 230.3h0M1635.3 288.1h0M1445.2 224.0h0M1641.3 271.6h0M1506.0 111.5h0M1411.6 281.8h0M1566.8 195.9h0M1625.3 248.0h0M1456.2 321.5h0M1546.8 243.3h0M1423.2 343.1h0M1504.3 283.8h0M1454.1 106.3h0M1416.3 306.5h0M1524.0 70.3h0M1426.0 297.7h0M1410.1 256.2h0M1425.4 191.3h0M1470.6 331.8h0M1419.8 185.4h0M1521.7 281.3h0M1406.5 270.1h0M1589.4 135.0h0M1437.3 193.0h0M1525.1 218.5h0M1442.9 119.3h0M1522.8 314.8h0M1466.8 65.9h0M1618.2 299.5h0M1556.4 165.3h0M1505.5 85.6h0M1393.7 285.3h0M1414.3 190.9h0M1487.5 110.9h0M1567.1 142.4h0M1653.2 227.6h0M1357.9 172.0h0M1566.7 244.1h0M1568.3 124.3h0M1487.6 328.3h0M1515.0 337.8h0M1379.5 200.0h0M1516.8 179.2h0M1481.5 338.8h0M1571.7 342.5h0M1401.9 330.9h0M1568.8 196.3h0M1556.7 218.5h0M1593.7 271.0h0M1544.6 294.7h0M1542.6 333.1h0M1370.6 235.9h0M1498.4 287.8h0M1594.8 101.4h0M1531.4 320.2h0M1498.1 359.8h0M1495.8 368.8h0M1481.0 168.2h0M1548.9 340.8h0M1473.0 263.8h0M1495.2 97.3h0M1508.7 325.1h0M1601.7 245.5h0M1623.3 209.8h0M1465.7 311.7h0M1360.7 210.3h0M1488.4 338.7h0M1565.6 162.5h0M1550.3 188.8h0M1587.3 211.9h0M1502.7 328.3h0M1533.0 261.9h0M1547.8 245.9h0M1546.9 74.6h0M1459.5 352.6h0M1646.6 260.7h0M1617.7 146.1h0M1605.1 287.2h0M1439.0 103.7h0M1506.3 100.3h0M1431.7 208.5h0M1529.5 88.3h0M1497.6 304.6h0M1531.3 131.4h0M1537.0 120.2h0M1619.2 146.5h0M1493.8 225.6h0M1586.6 310.4h0M1504.9 347.2h0M1562.7 156.5h0M1437.4 119.6h0M1575.2 312.3h0M1502.2 148.8h0M1613.4 244.8h0M1533.6 266.1h0M1370.1 177.3h0M1368.0 209.9h0M1604.6 242.1h0M1614.0 240.0h0M1453.2 301.6h0M1366.2 255.4h0M1406.2 134.8h0M1590.7 294.1h0M1381.5 157.7h0M1483.8 88.0h0M1586.1 181.2h0M1546.6 274.8h0M1602.1 216.1h0M1595.9 321.2h0M1395.4 329.8h0M1634.1 181.7h0M1470.6 97.3h0M1399.5 260.6h0M1407.1 306.8h0M1488.1 202.6h0M1645.4 235.4h0M1421.5 104.0h0M1410.8 269.2h0M1575.2 253.9h0M1477.6 113.0h0M1621.0 249.5h0M1463.9 105.5h0M1465.3 226.1h0M1596.8 204.1h0M1424.0 351.8h0M1556.5 266.6h0M1573.7 345.1h0M1426.0 346.9h0M1639.0 193.1h0M1431.0 223.8h0M1558.7 277.9h0M1650.3 178.3h0M1531.8 128.9h0M1463.9 343.6h0M1420.2 201.4h0M1389.0 304.9h0M1633.4 187.1h0M1367.8 195.1h0M1544.8 146.1h0M1405.4 296.0h0M1480.8 229.7h0M1413.4 160.1h0M1551.7 314.1h0M1502.6 90.9h0M1518.1 342.8h0M1408.5 217.4h0M1459.2 98.7h0M1483.4 367.7h0M1470.9 332.0h0M1647.0 165.2h0M1524.9 227.1h0M1545.8 176.8h0M1612.9 267.2h0M1491.1 75.2h0M1434.8 150.1h0M1560.0 71.7h0M1408.5 196.5h0M1412.0 200.1h0M1491.0 80.6h0M1518.9 119.6h0M1393.1 266.1h0M1360.1 173.1h0M1596.3 122.2h0M1392.0 216.4h0M1562.1 341.0h0M1462.8 339.9h0M1584.0 214.2h0M1572.9 85.2h0M1548.1 132.9h0M1442.3 285.0h0M1422.3 291.7h0M1386.0 257.3h0M1547.8 323.0h0M1492.1 351.9h0M1496.1 78.9h0M1596.7 141.3h0M1473.8 289.8h0M1561.8 191.7h0M1416.5 306.8h0M1473.7 162.2h0M1387.6 151.2h0M1622.7 254.5h0M1616.8 156.7h0M1471.9 236.1h0M1389.7 302.9h0M1445.7 302.4h0M1543.0 317.3h0M1383.1 150.2h0M1470.7 149.0h0M1598.8 115.7h0M1546.8 201.5h0M1550.1 353.2h0M1499.6 134.8h0M1482.6 106.6h0M1367.9 242.5h0M1645.5 199.5h0M1396.9 110.4h0M1507.4 242.2h0M1501.5 263.9h0M1559.3 297.5h0M1564.8 152.6h0M1361.0 205.2h0M1501.6 244.1h0M1596.7 334.1h0M1456.7 236.8h0M1581.4 202.0h0M1641.9 163.1h0M1519.0 261.9h0M1451.1 360.0h0M1502.1 98.9h0M1525.3 341.7h0M1446.1 142.9h0M1609.8 160.6h0M1529.3 196.4h0M1621.5 166.1h0M1412.6 311.5h0M1554.6 308.7h0M1536.8 365.2h0M1418.7 122.6h0M1446.5 163.1h0M1401.9 207.3h0M1475.7 318.9h0M1530.9 300.4h0M1473.3 202.4h0M1568.1 278.2h0M1600.7 285.5h0M1506.9 82.1h0M1487.9 365.9h0M1604.3 122.9h0M1376.2 291.4h0M1444.3 208.1h0M1380.4 178.8h0M1491.7 236.2h0M1445.6 108.9h0M1550.9 350.1h0M1473.4 194.3h0M1498.5 316.6h0M1481.4 134.2h0M1501.0 103.4h0M1434.7 313.3h0M1414.8 292.9h0M1561.5 351.3h0M1567.2 156.1h0M1504.9 117.1h0M1597.6 296.5h0M1473.3 135.0h0M1587.1 162.9h0M1400.1 223.3h0M1510.1 215.2h0M1571.6 313.6h0M1425.1 289.1h0M1635.3 291.9h0M1516.2 298.9h0M1356.4 225.2h0M1393.8 159.7h0M1520.4 107.8h0M1407.3 296.3h0M1426.3 110.8h0M1378.9 288.9h0M1448.3 67.8h0M1417.2 312.8h0M1423.6 117.5h0M1511.6 101.3h0M1571.2 104.3h0M1402.5 260.7h0M1367.6 246.2h0M1458.3 244.6h0M1551.1 225.5h0M1529.1 195.0h0M1387.5 236.1h0M1572.2 263.8h0M1485.0 286.9h0M1556.1 85.8h0M1565.4 105.4h0M1391.0 294.0h0M1500.7 67.9h0M1587.1 338.1h0M1547.1 176.8h0M1480.5 162.5h0M1360.7 258.3h0M1398.7 307.3h0M1572.2 202.5h0M1557.2 187.2h0M1495.6 316.2h0M1397.6 301.0h0M1520.7 357.6h0M1367.2 267.6h0M1357.9 265.7h0M1382.3 184.5h0M1471.2 122.4h0M1445.0 284.4h0M1491.3 176.8h0M1397.8 166.9h0M1366.4 154.9h0M1498.9 149.2h0M1516.9 341.4h0M1513.1 81.3h0M1613.7 155.1h0M1489.1 92.5h0M1464.8 273.4h0M1444.1 219.9h0M1393.9 289.0h0M1432.1 225.9h0M1563.9 143.8h0M1506.7 252.0h0M1436.0 121.0h0M1406.8 257.2h0M1584.8 317.6h0M1416.2 179.1h0M1585.2 337.2h0M1459.0 234.8h0M1576.5 84.4h0M1378.1 283.5h0M1435.1 193.4h0M1571.8 142.1h0M1426.9 179.0h0M1473.4 101.3h0M1432.2 313.3h0M1388.0 242.2h0M1412.9 144.5h0M1575.3 285.2h0M1353.8 198.5h0M1513.1 140.2h0M1444.8 296.2h0M1499.6 302.8h0M1463.6 90.3h0M1590.3 298.4h0M1384.1 175.9h0M1625.8 297.5h0M1564.4 179.7h0M1408.3 259.0h0M1480.5 362.5h0M1500.6 221.7h0M1466.8 139.6h0M1534.8 290.2h0M1424.5 177.7h0M1569.5 148.8h0M1616.7 223.0h0M1419.4 136.9h0M1640.6 151.2h0M1355.1 172.6h0M1448.8 98.1h0M1483.2 124.1h0M1595.2 285.2h0M1485.7 300.7h0M1463.2 270.9h0M1572.0 261.0h0M1401.9 276.7h0M1585.2 296.8h0M1500.5 119.5h0M1652.0 249.1h0M1501.2 368.9h0M1533.2 62.8h0M1564.1 253.2h0M1419.4 163.8h0M1585.1 217.3h0M1480.7 279.1h0M1411.9 262.5h0M1386.7 230.6h0M1432.2 103.7h0M1476.9 195.5h0M1428.5 243.0h0M1420.8 105.9h0M1484.3 231.6h0M1602.2 131.2h0M1590.5 123.8h0M1458.5 328.1h0M1542.6 284.8h0M1555.2 272.1h0M1424.6 316.7h0M1626.3 158.2h0M1413.3 199.9h0M1556.5 70.4h0M1614.1 288.0h0M1427.4 181.5h0M1459.8 112.3h0M1501.1 117.8h0M1610.7 192.5h0M1603.6 146.3h0M1467.1 166.0h0M1525.7 322.1h0M1540.8 100.0h0M1449.6 264.3h0M1471.0 133.6h0M1483.6 110.4h0M1557.9 324.9h0M1433.8 94.9h0M1470.5 245.9h0M1402.6 117.5h0M1648.1 193.4h0M1380.0 184.4h0M1395.9 261.9h0M1420.4 231.8h0M1573.3 207.6h0M1385.8 160.8h0M1429.9 271.0h0M1539.6 73.8h0M1406.6 173.6h0M1626.0 135.1h0M1609.5 306.7h0M1423.6 287.1h0M1514.7 302.3h0M1556.4 353.4h0M1485.4 194.2h0M1421.5 341.9h0M1519.5 143.1h0M1517.1 101.8h0M1450.3 360.3h0M1541.1 223.0h0M1464.1 171.7h0M1542.6 161.5h0M1539.7 238.8h0M1392.7 154.9h0M1596.7 295.3h0M1541.1 313.9h0M1449.9 325.9h0M1481.4 106.5h0M1492.6 219.5h0M1539.5 191.1h0M1399.9 152.5h0M1490.2 85.9h0M1410.0 277.1h0M1370.2 157.8h0M1386.1 309.7h0M1580.3 324.3h0M1518.0 197.1h0M1622.2 142.5h0M1539.4 101.4h0M1464.7 121.6h0M1580.0 108.0h0M1388.4 274.0h0M1655.2 200.9h0M1466.5 170.2h0M1480.1 371.1h0M1385.3 128.6h0M1367.4 248.9h0M1437.9 255.3h0M1626.0 188.3h0M1366.6 289.9h0M1469.9 267.2h0M1483.5 339.2h0M1570.3 139.0h0M1592.3 284.2h0M1451.9 215.7h0M1566.3 113.5h0M1472.4 182.5h0M1614.5 222.9h0M1390.9 253.9h0M1555.8 96.8h0M1493.3 126.1h0M1522.9 160.1h0M1515.8 125.8h0M1421.7 123.3h0M1499.5 89.8h0M1575.1 100.3h0M1501.7 365.4h0M1537.2 311.7h0M1519.5 199.4h0M1480.7 237.5h0M1369.8 267.6h0M1532.3 205.2h0M1511.9 361.1h0M1509.2 146.1h0M1481.7 352.1h0M1442.5 330.0h0M1455.6 135.7h0M1480.2 184.8h0M1485.7 372.5h0M1601.7 162.0h0M1551.7 87.1h0M1620.7 180.0h0M1630.3 200.6h0M1570.0 222.0h0M1568.9 203.7h0M1439.7 323.5h0M1478.9 73.8h0M1513.5 327.1h0M1431.0 314.4h0M1475.0 236.5h0M1542.0 281.4h0M1576.3 279.8h0M1373.1 160.5h0M1613.3 126.8h0M1444.7 178.4h0M1515.4 286.4h0M1529.8 183.5h0M1561.4 140.3h0M1468.3 106.0h0M1527.5 198.6h0M1423.4 215.1h0M1381.4 285.6h0M1468.8 261.8h0M1533.8 320.7h0M1496.1 355.2h0M1442.7 154.2h0M1459.3 168.0h0M1514.3 198.4h0M1601.9 102.5h0M1502.9 271.4h0M1506.8 355.0h0M1419.3 278.4h0M1400.5 194.1h0M1393.3 325.6h0M1492.3 292.0h0M1404.2 293.1h0M1376.1 270.7h0M1374.2 295.7h0M1534.5 272.8h0M1480.1 216.9h0M1377.0 149.0h0M1627.3 282.3h0M1514.1 232.0h0M1426.9 288.5h0M1468.0 124.0h0M1433.9 200.6h0M1467.1 67.7h0M1506.9 275.8h0M1517.7 317.2h0M1463.3 149.7h0M1447.2 247.9h0M1438.4 158.2h0M1424.2 255.6h0M1534.8 265.9h0M1435.3 239.6h0M1469.7 126.0h0M1508.0 250.3h0M1492.8 282.3h0M1651.7 211.7h0M1576.6 158.7h0M1553.2 218.1h0M1388.6 140.3h0M1429.9 251.0h0M1517.8 358.0h0M1476.5 101.6h0M1555.0 185.2h0M1556.9 256.2h0M1560.2 293.0h0M1421.0 126.1h0M1461.7 347.8h0M1592.8 160.1h0M1502.3 346.0h0M1635.7 200.3h0M1520.0 179.7h0M1584.7 251.5h0M1408.8 223.3h0M1648.8 188.9h0M1371.1 267.5h0M1566.6 244.7h0M1512.7 175.7h0M1365.8 177.5h0M1621.9 293.3h0M1601.9 232.7h0M1598.3 95.3h0M1543.7 254.9h0M1421.8 268.1h0M1445.7 252.6h0M1620.5 214.3h0M1397.0 191.7h0M1528.7 368.3h0M1484.7 220.7h0M1396.5 216.1h0M1585.2 246.1h0M1597.3 290.4h0M1375.3 189.5h0M1354.9 228.6h0M1521.6 317.7h0M1488.0 322.8h0M1642.2 191.3h0M1451.3 336.0h0M1606.3 227.5h0M1394.3 160.2h0M1552.5 290.4h0M1535.2 322.4h0M1506.3 156.4h0M1376.2 196.9h0M1517.1 270.0h0M1402.7 313.3h0M1430.9 331.3h0M1390.7 289.3h0M1604.2 260.2h0M1356.4 207.2h0M1401.8 238.5h0M1602.0 175.5h0M1610.8 240.5h0M1411.8 143.4h0M1429.6 327.4h0M1471.4 112.5h0M1473.9 117.7h0M1509.8 154.5h0M1612.3 160.6h0M1377.9 163.0h0M1528.6 369.7h0M1573.0 160.2h0M1466.3 182.1h0M1556.4 97.7h0M1515.3 192.1h0M1585.7 83.6h0M1513.9 104.8h0M1567.2 309.3h0M1634.2 139.5h0M1492.0 187.5h0M1615.9 223.8h0M1492.0 229.3h0M1520.6 260.1h0M1398.3 315.8h0M1468.6 325.6h0M1626.4 202.4h0M1400.6 230.7h0M1454.4 314.4h0M1453.8 236.0h0M1612.4 115.0h0M1411.0 158.0h0M1406.1 251.1h0M1420.8 118.1h0M1556.0 214.5h0M1441.9 173.7h0M1614.5 214.7h0M1454.2 272.6h0M1512.7 364.4h0M1452.1 278.5h0M1569.6 268.3h0M1537.7 347.8h0M1564.7 154.8h0M1543.3 274.0h0M1443.1 359.7h0M1397.5 301.1h0M1624.9 293.3h0M1435.0 233.0h0M1463.6 159.2h0M1586.6 85.6h0M1530.7 151.3h0M1548.4 145.6h0M1369.6 204.8h0M1487.2 162.5h0M1488.2 256.7h0M1619.5 144.8h0M1603.1 253.5h0M1364.6 147.9h0M1516.4 99.3h0M1475.2 263.0h0M1393.7 217.0h0M1617.2 266.5h0M1444.9 247.1h0M1577.7 275.2h0M1631.8 273.4h0M1503.3 362.2h0M1471.1 136.4h0M1572.6 343.1h0M1380.8 129.0h0M1501.5 81.3h0M1565.3 98.6h0M1547.0 237.3h0M1401.3 328.8h0M1516.8 320.2h0M1450.3 324.1h0M1395.5 181.1h0M1545.8 346.5h0M1438.9 105.6h0M1436.0 156.2h0M1427.8 116.2h0M1492.3 173.9h0M1602.0 194.3h0M1609.5 157.4h0M1423.6 274.2h0M1440.6 214.9h0M1435.1 176.2h0M1553.6 221.9h0M1541.4 81.4h0M1582.6 350.2h0M1393.2 175.2h0M1569.9 124.7h0M1476.8 81.0h0M1549.8 329.8h0M1614.1 273.8h0M1623.5 273.5h0M1521.0 223.4h0M1484.9 66.1h0M1522.1 243.9h0M1599.5 293.0h0M1471.1 169.1h0M1620.8 147.0h0M1414.3 298.1h0M1540.8 263.7h0M1522.2 289.0h0M1488.5 350.2h0M1372.5 243.9h0M1466.8 218.2h0M1538.4 307.0h0M1579.8 181.1h0M1447.8 234.4h0M1513.3 179.6h0M1606.4 199.9h0M1564.2 84.3h0M1461.2 140.5h0M1359.6 228.7h0M1596.6 197.8h0M1461.1 161.5h0M1437.3 73.0h0M1446.8 119.2h0M1389.9 176.3h0M1530.7 150.9h0M1606.4 136.8h0M1439.2 158.5h0M1469.7 219.1h0M1586.4 85.9h0M1589.5 326.7h0M1569.8 223.3h0M1567.4 104.7h0M1487.5 94.1h0M1570.5 164.5h0M1527.6 73.8h0M1492.2 206.5h0M1458.9 292.8h0M1402.0 278.2h0M1417.3 342.0h0M1628.8 237.1h0M1434.9 105.2h0M1596.7 277.5h0M1382.6 118.5h0M1518.5 305.1h0M1553.6 87.0h0M1515.3 90.1h0M1645.2 222.3h0M1562.2 126.1h0M1508.0 275.2h0M1560.2 283.0h0M1462.5 356.7h0M1360.7 207.9h0M1486.3 100.4h0M1608.7 126.3h0M1487.5 150.3h0M1426.3 176.3h0M1580.7 128.1h0M1581.8 245.9h0M1403.0 264.4h0M1489.5 181.5h0M1481.9 203.4h0M1550.5 89.7h0M1451.3 97.4h0M1377.1 232.6h0M1438.5 206.4h0M1389.0 286.7h0M1568.0 95.9h0M1406.0 205.9h0M1462.1 95.4h0M1442.9 275.7h0M1442.9 218.5h0M1594.6 253.2h0M1473.2 141.1h0M1511.6 361.9h0M1478.0 219.4h0M1465.3 330.6h0M1484.3 275.0h0M1618.9 194.1h0M1648.5 205.6h0M1378.7 127.1h0M1483.4 158.8h0M1451.0 332.5h0M1473.8 169.7h0M1572.0 191.1h0M1490.5 160.2h0M1522.3 320.4h0M1596.5 101.3h0M1653.6 215.8h0M1445.9 308.4h0M1578.8 333.5h0M1613.4 170.4h0M1637.1 187.3h0M1521.5 98.5h0M1618.2 243.4h0M1368.0 199.3h0M1398.0 261.0h0M1538.5 334.2h0M1479.6 230.7h0M1596.9 184.5h0M1573.9 245.6h0M1496.2 183.1h0M1559.1 334.4h0M1568.6 299.0h0M1542.1 364.9h0M1398.0 188.8h0M1563.2 192.1h0M1602.2 249.8h0M1583.5 193.5h0M1572.3 310.0h0M1554.3 82.3h0M1476.1 170.1h0M1636.7 141.5h0M1512.6 140.8h0M1526.9 187.7h0M1383.6 173.6h0M1632.9 281.2h0M1440.1 173.5h0M1508.7 331.5h0M1423.8 193.1h0M1427.2 353.7h0M1444.1 156.2h0M1424.5 267.9h0M1381.7 180.3h0M1527.9 343.4h0M1433.4 343.4h0M1528.1 116.2h0M1429.7 178.2h0M1547.1 94.7h0M1583.2 303.8h0M1506.2 93.8h0M1603.9 196.0h0M1353.1 194.1h0M1488.8 228.7h0M1495.7 188.1h0M1367.1 277.0h0M1448.0 288.7h0M1612.6 222.6h0M1455.8 320.1h0M1514.1 207.8h0M1522.7 351.3h0M1559.4 146.7h0M1459.1 229.0h0M1387.0 198.8h0M1377.2 231.0h0M1484.8 156.7h0M1449.8 358.3h0M1492.5 170.7h0M1584.9 269.3h0M1419.0 143.1h0M1460.9 89.7h0M1570.2 346.4h0M1388.7 156.5h0M1491.0 134.5h0M1544.8 111.0h0M1467.4 241.8h0M1502.7 215.6h0M1527.6 125.2h0M1410.3 252.4h0M1528.6 208.0h0M1511.9 285.5h0M1503.0 130.9h0M1527.0 63.6h0M1404.8 94.2h0M1392.2 311.1h0M1534.6 287.0h0M1549.2 93.8h0M1528.0 367.7h0M1552.2 107.6h0M1596.3 297.1h0M1503.5 212.1h0M1537.5 185.9h0M1561.1 88.3h0M1494.1 327.8h0M1447.1 301.2h0M1468.0 303.0h0M1486.5 271.8h0M1584.2 161.1h0M1590.1 269.5h0M1584.0 184.3h0M1564.3 241.9h0M1634.8 198.9h0M1490.2 277.0h0M1409.4 305.9h0M1508.4 221.2h0M1535.6 106.0h0M1390.0 229.5h0M1633.2 207.7h0M1549.4 335.2h0M1444.4 230.8h0M1469.5 332.6h0M1385.3 117.7h0" fill="none" stroke="#aaa5a5" stroke-width="1.3" stroke-linecap="round" stroke-opacity="0.6"/>
<path d="M1475.7 271.1h0M1528.9 154.4h0M1442.1 141.9h0M1436.3 95.3h0M1563.7 153.4h0M1405.2 148.6h0M1582.7 85.9h0M1483.0 182.5h0M1481.9 312.1h0M1532.7 183.5h0M1513.7 325.8h0M1462.1 110.1h0M1478.1 209.0h0M1644.3 196.2h0M1449.3 71.0h0M1525.4 283.7h0M1616.9 130.8h0M1624.6 192.8h0M1482.4 290.9h0M1579.8 165.5h0M1375.7 140.6h0M1597.3 160.5h0M1481.7 212.8h0M1552.2 312.3h0M1420.1 184.6h0M1517.8 104.2h0M1511.7 64.9h0M1419.2 142.8h0M1466.0 116.2h0M1354.5 237.2h0M1537.5 257.9h0M1576.1 326.7h0M1555.9 304.4h0M1498.8 194.2h0M1622.0 262.5h0M1636.5 283.5h0M1633.2 275.8h0M1496.3 272.6h0M1545.0 121.4h0M1551.4 130.3h0M1566.5 100.2h0M1580.5 91.8h0M1443.3 231.9h0M1424.4 289.9h0M1515.2 336.6h0M1502.9 87.5h0M1561.8 210.1h0M1597.4 137.2h0M1524.4 161.3h0M1613.8 304.8h0M1417.8 125.8h0M1501.3 103.6h0M1481.1 181.7h0M1493.5 144.8h0M1576.6 246.6h0M1398.1 204.8h0M1569.1 191.6h0M1596.3 322.2h0M1610.5 218.5h0M1551.7 190.9h0M1455.9 287.9h0M1580.2 204.0h0M1630.3 128.1h0M1579.3 296.0h0M1503.4 316.2h0M1529.9 219.9h0M1586.5 149.5h0M1501.1 342.4h0M1533.6 243.2h0M1356.3 253.9h0M1505.3 371.3h0M1494.5 237.9h0M1590.0 235.6h0M1460.6 364.5h0M1501.9 187.7h0M1563.2 86.6h0M1444.0 161.6h0M1507.7 64.4h0M1444.1 267.9h0M1543.8 240.8h0M1397.4 278.3h0M1500.7 70.1h0M1416.6 176.5h0M1585.2 338.4h0M1498.8 338.7h0M1542.1 351.3h0M1457.7 269.2h0M1616.4 227.0h0M1541.3 190.6h0M1645.0 161.2h0M1409.9 147.2h0M1468.0 312.4h0M1390.9 273.9h0M1480.7 225.2h0M1460.2 236.3h0M1471.5 214.0h0M1466.7 213.3h0M1598.3 92.3h0M1525.9 161.0h0M1513.9 163.5h0M1624.0 312.5h0M1427.0 146.6h0M1521.4 335.5h0M1537.0 336.0h0M1530.7 255.6h0M1501.0 232.9h0M1418.3 180.2h0M1362.6 269.1h0M1540.0 333.4h0M1607.1 126.2h0M1373.0 245.6h0M1454.6 78.9h0M1491.0 333.4h0M1415.2 119.4h0M1456.4 77.1h0M1459.3 97.9h0M1499.2 175.5h0M1582.4 99.3h0M1526.8 302.0h0M1487.5 287.8h0M1451.4 216.6h0M1621.9 284.5h0M1513.3 323.0h0M1506.3 78.5h0M1454.4 189.1h0M1539.2 85.6h0M1392.2 299.6h0M1380.0 215.6h0M1494.2 65.2h0M1383.4 154.5h0M1449.7 101.3h0M1383.3 283.9h0M1449.6 158.4h0M1401.4 163.4h0M1432.4 134.9h0M1420.6 233.1h0M1505.2 303.0h0M1391.8 271.0h0M1538.7 156.3h0M1372.3 189.7h0M1508.2 274.9h0M1394.0 222.1h0M1389.3 239.8h0M1543.5 205.3h0M1485.4 195.8h0M1611.8 203.0h0M1525.2 198.5h0M1431.8 297.4h0M1511.6 143.8h0M1422.3 214.1h0M1604.1 149.5h0M1412.7 121.4h0M1472.7 149.7h0M1562.7 89.8h0M1498.2 303.0h0M1460.3 310.5h0M1535.4 201.0h0M1371.1 146.8h0M1597.9 224.7h0M1643.5 156.1h0M1460.6 242.5h0M1516.7 231.3h0M1631.3 259.2h0M1412.9 119.5h0M1423.9 304.9h0M1421.7 312.4h0M1630.8 168.4h0M1433.7 163.7h0M1574.6 153.1h0M1556.8 79.4h0M1514.5 338.9h0M1503.5 75.0h0M1586.0 140.3h0M1412.7 176.4h0M1467.2 252.7h0M1516.6 155.1h0M1368.0 163.8h0M1578.1 195.7h0M1407.0 96.2h0M1633.1 256.9h0M1465.2 138.3h0M1500.1 271.8h0M1494.9 200.0h0M1546.6 177.9h0M1549.7 117.8h0M1470.6 272.0h0M1467.7 152.6h0M1531.8 192.9h0M1643.0 217.7h0M1560.0 341.9h0M1535.4 335.3h0M1551.0 298.6h0M1613.5 219.3h0M1449.2 210.6h0M1392.2 219.7h0M1621.0 229.6h0M1579.9 293.8h0M1523.0 186.0h0M1462.7 208.0h0M1523.9 196.5h0M1359.6 176.0h0M1502.1 330.3h0M1470.4 172.0h0M1412.9 139.7h0M1541.7 343.4h0M1387.4 179.1h0M1407.5 208.3h0M1510.8 333.9h0M1424.7 284.1h0M1426.5 320.2h0M1584.5 99.8h0M1367.7 237.8h0M1637.2 219.8h0M1351.4 218.1h0M1428.4 155.0h0M1483.0 272.9h0M1569.8 197.6h0M1392.4 203.5h0M1431.7 276.6h0M1413.5 340.2h0M1408.8 285.3h0M1612.6 109.3h0M1647.4 206.9h0M1548.5 287.0h0M1567.0 114.4h0M1538.2 321.6h0M1490.1 342.8h0M1364.2 195.7h0M1513.8 126.7h0M1621.2 304.2h0M1639.3 266.4h0M1601.3 189.6h0M1536.6 136.0h0M1506.8 314.9h0M1584.2 200.8h0M1551.9 295.3h0M1449.2 232.8h0M1492.6 366.0h0M1450.9 274.0h0M1515.5 118.6h0M1416.8 179.8h0M1510.6 271.7h0M1395.9 283.2h0M1615.1 145.2h0M1585.8 237.6h0M1562.8 347.3h0M1486.3 137.8h0M1639.7 255.1h0M1502.4 169.5h0M1370.6 286.3h0M1492.5 72.0h0M1468.2 226.8h0M1357.3 171.1h0M1481.4 270.4h0M1563.6 329.1h0M1544.6 341.5h0M1569.0 274.8h0M1455.7 195.6h0M1441.1 243.7h0M1650.0 223.9h0M1399.0 105.8h0M1483.5 281.4h0M1462.6 303.0h0M1614.6 246.6h0M1604.4 178.2h0M1548.8 288.5h0M1586.5 105.1h0M1476.5 342.1h0M1423.6 259.8h0M1545.4 290.0h0M1577.9 261.9h0M1651.6 191.1h0M1516.6 180.0h0M1437.5 161.3h0M1604.6 183.9h0M1568.4 228.0h0M1460.0 231.0h0M1501.5 264.8h0M1501.5 326.9h0M1467.5 239.5h0M1577.2 127.0h0M1489.3 230.0h0M1521.9 300.5h0M1372.7 283.0h0M1429.4 332.3h0M1490.5 62.2h0M1424.3 187.5h0M1389.7 307.9h0M1547.2 299.4h0M1558.9 233.0h0M1491.1 298.0h0M1493.7 335.2h0M1521.1 91.4h0M1606.5 105.9h0M1457.7 346.6h0M1646.1 222.7h0M1455.3 342.1h0M1543.3 286.5h0M1388.2 127.2h0M1440.7 337.6h0M1440.0 150.6h0M1438.7 169.7h0M1650.1 229.0h0M1538.8 213.1h0M1619.9 292.5h0M1387.8 186.8h0M1498.1 135.6h0M1524.1 60.9h0M1512.4 227.1h0M1603.9 257.4h0M1540.9 269.8h0M1544.1 186.3h0M1527.3 186.7h0M1541.4 348.2h0M1453.7 104.2h0M1553.3 183.5h0M1554.2 253.5h0M1491.4 187.4h0M1541.1 178.0h0M1479.1 160.0h0M1404.3 210.4h0M1492.2 228.4h0M1437.5 120.1h0M1513.7 215.9h0M1572.0 180.3h0M1531.3 196.8h0M1446.7 329.8h0M1499.1 69.6h0M1479.8 119.4h0M1373.5 238.5h0M1603.0 165.2h0M1567.9 342.9h0M1416.8 327.3h0M1630.9 213.5h0M1415.2 249.9h0M1474.9 313.2h0M1506.1 118.4h0M1619.5 235.5h0M1359.2 240.7h0M1625.4 249.0h0M1469.3 201.4h0M1466.4 120.5h0M1556.8 288.6h0M1575.1 124.4h0M1410.9 193.8h0M1406.1 195.1h0M1529.3 183.7h0M1565.3 353.8h0M1536.5 109.8h0M1482.4 289.6h0M1456.4 158.0h0M1589.8 275.9h0M1651.7 212.3h0M1360.0 230.1h0M1490.4 255.9h0M1454.7 211.9h0M1581.4 92.1h0M1582.9 290.9h0M1597.3 235.2h0M1436.9 179.7h0M1619.5 247.9h0M1567.3 257.2h0M1530.1 109.9h0M1457.5 162.6h0M1540.6 100.7h0M1456.8 364.1h0M1510.2 286.1h0M1531.5 78.0h0M1505.3 205.8h0M1398.0 276.3h0M1570.7 259.3h0M1532.6 160.2h0M1473.2 256.3h0M1633.7 151.0h0M1610.6 273.5h0M1591.9 191.0h0M1438.7 144.4h0M1437.2 80.8h0M1567.2 103.1h0M1547.9 178.0h0M1509.0 130.7h0M1368.7 290.9h0M1628.7 185.3h0M1491.9 278.8h0M1530.8 300.9h0M1544.4 360.8h0M1389.4 238.0h0M1637.8 253.0h0M1504.2 257.9h0M1409.5 93.0h0M1559.0 352.1h0M1439.2 94.7h0M1590.2 313.7h0M1598.3 254.4h0M1558.6 264.1h0M1455.0 293.0h0M1576.3 95.4h0M1412.8 117.6h0M1413.3 282.6h0M1543.5 212.3h0M1571.7 295.5h0M1547.9 343.7h0M1439.1 242.5h0M1528.6 293.2h0M1642.5 167.5h0M1645.1 228.0h0M1579.6 331.0h0M1592.1 291.2h0M1603.5 203.2h0M1568.5 93.0h0M1642.4 256.1h0M1581.5 254.9h0M1583.0 143.2h0M1465.7 250.4h0M1550.8 266.5h0M1397.0 151.3h0M1465.3 231.3h0M1426.9 109.6h0M1594.8 333.5h0M1432.5 81.2h0M1524.3 156.1h0M1371.5 166.6h0M1534.2 233.3h0M1461.3 157.6h0M1619.5 316.1h0M1474.1 254.9h0M1599.3 302.4h0M1442.7 83.4h0M1380.7 191.3h0M1580.8 222.9h0M1567.0 211.7h0M1493.5 371.4h0M1397.7 146.4h0M1534.9 257.5h0M1470.2 311.8h0M1587.1 103.8h0M1553.1 180.5h0M1410.2 301.8h0M1505.0 243.1h0M1580.5 287.5h0M1546.4 246.2h0M1536.6 283.6h0M1356.3 245.5h0M1488.3 367.7h0M1497.6 173.1h0M1473.7 281.4h0M1372.3 241.3h0M1513.4 327.4h0M1573.0 191.6h0M1352.9 204.7h0M1441.5 165.7h0M1536.3 263.3h0M1508.7 280.6h0M1643.1 185.5h0M1507.4 344.5h0M1443.2 187.1h0M1495.8 91.0h0M1377.2 236.1h0M1519.0 141.4h0M1494.0 121.3h0M1566.9 292.2h0M1421.2 172.1h0M1443.0 241.5h0M1565.7 106.9h0M1614.6 226.9h0M1512.5 297.0h0M1604.6 284.0h0M1491.4 356.6h0M1517.7 169.9h0M1402.8 269.5h0M1471.3 338.6h0M1496.0 179.2h0M1531.4 234.7h0M1425.5 224.2h0M1517.8 304.0h0M1465.9 181.1h0M1564.6 339.0h0M1354.1 242.4h0M1477.2 320.9h0M1532.4 142.4h0M1497.9 85.7h0M1639.7 259.9h0M1498.7 145.5h0M1358.9 243.7h0M1448.2 353.2h0M1618.0 242.5h0M1474.3 302.2h0M1546.5 324.1h0M1562.3 354.1h0M1448.2 193.9h0M1535.5 118.6h0M1497.9 299.1h0M1592.3 219.3h0M1438.3 209.1h0M1559.5 175.6h0M1478.2 81.1h0M1353.4 229.3h0M1522.8 253.5h0M1421.0 258.6h0M1490.1 122.5h0M1588.1 167.7h0M1468.3 328.6h0M1574.5 158.6h0M1613.7 161.6h0M1455.0 301.6h0M1529.3 158.8h0M1576.5 244.8h0M1536.9 273.4h0M1499.5 177.6h0M1490.6 189.7h0M1532.2 99.7h0M1545.8 303.4h0M1394.4 282.6h0M1645.2 173.8h0M1568.8 73.8h0M1582.1 327.4h0M1601.0 149.2h0M1573.2 139.8h0M1497.0 351.3h0M1591.0 280.1h0M1603.1 214.6h0M1550.7 87.2h0M1524.9 197.7h0M1374.4 242.0h0M1579.1 347.0h0M1528.9 364.4h0M1635.5 190.8h0M1363.2 185.9h0M1557.2 186.5h0M1571.3 298.5h0M1492.1 311.5h0M1559.8 209.2h0M1596.0 195.6h0M1560.9 275.4h0M1364.1 156.5h0M1405.2 333.5h0M1364.7 176.5h0M1516.5 222.2h0M1567.9 105.2h0M1639.9 145.8h0M1486.7 363.8h0M1624.0 211.0h0M1572.0 330.5h0M1385.8 213.9h0M1505.0 264.2h0M1611.7 144.6h0M1476.2 188.9h0M1453.4 124.7h0M1462.1 286.4h0M1519.2 314.9h0M1590.8 282.0h0M1545.9 337.8h0M1447.9 221.8h0M1471.2 125.6h0M1476.9 370.5h0M1549.1 217.1h0M1534.7 72.3h0M1440.0 187.7h0M1483.8 326.7h0M1463.4 81.8h0M1503.5 368.5h0M1466.7 77.4h0M1494.1 143.4h0M1516.4 355.7h0M1447.6 103.0h0M1650.4 247.4h0M1539.9 85.5h0M1448.0 276.3h0M1571.3 138.4h0M1627.9 232.6h0M1565.1 174.7h0M1446.1 329.2h0M1556.0 315.0h0M1596.4 300.6h0M1436.9 105.8h0M1625.8 183.9h0M1560.0 328.7h0M1454.1 173.2h0M1456.8 337.8h0M1401.5 122.3h0M1473.7 173.6h0M1564.4 345.4h0M1647.1 230.8h0M1564.2 100.8h0M1540.3 233.2h0M1607.4 101.1h0M1626.8 298.9h0M1428.1 299.4h0M1426.8 327.0h0M1594.7 162.7h0M1518.3 147.4h0M1482.6 340.7h0M1499.0 360.4h0M1391.0 234.1h0M1515.3 97.1h0M1491.9 141.1h0M1446.5 138.5h0M1615.8 266.7h0M1567.7 312.6h0M1501.7 262.6h0M1502.3 302.8h0M1407.9 317.7h0M1478.3 261.8h0M1637.1 284.1h0M1441.3 115.5h0M1434.5 180.5h0M1424.5 115.7h0M1525.0 206.2h0M1588.2 198.5h0M1566.2 309.5h0M1559.7 253.7h0M1595.0 181.4h0M1461.5 102.1h0M1427.1 248.4h0M1478.0 295.2h0M1620.9 288.6h0M1509.4 269.3h0M1419.4 101.9h0M1476.0 172.6h0M1418.6 260.1h0M1510.3 352.4h0M1487.4 355.8h0M1580.4 94.4h0M1531.7 270.9h0M1473.1 98.9h0M1468.9 77.6h0M1549.2 340.4h0M1524.8 92.5h0M1624.9 148.7h0M1573.7 270.8h0M1614.9 162.7h0M1627.9 162.4h0M1541.9 258.0h0M1373.3 263.3h0M1405.8 221.3h0M1415.0 213.0h0M1377.9 283.5h0M1640.2 185.3h0M1411.4 190.5h0M1461.9 244.6h0M1359.5 175.2h0M1605.2 235.6h0M1480.5 61.7h0M1381.0 233.4h0M1509.3 189.0h0M1521.6 347.6h0M1433.3 160.3h0M1582.1 225.6h0M1559.1 281.1h0M1516.5 77.4h0M1560.7 166.0h0M1475.6 352.5h0M1509.3 356.6h0M1526.6 103.1h0M1634.0 143.4h0M1499.8 266.8h0M1509.6 153.7h0M1420.3 208.0h0M1597.5 332.6h0M1547.9 349.9h0M1432.3 288.1h0M1618.0 118.0h0M1385.7 201.7h0M1407.1 152.8h0M1502.5 305.0h0M1358.7 267.9h0M1514.1 355.5h0M1617.6 268.3h0M1489.7 254.8h0M1474.1 218.4h0M1445.2 156.6h0M1544.1 118.2h0M1422.9 332.4h0M1447.8 134.2h0M1557.9 361.7h0M1521.6 196.9h0M1537.9 351.5h0M1512.0 142.6h0M1580.9 216.3h0M1513.4 90.1h0M1386.3 189.2h0M1577.4 269.0h0M1445.9 185.1h0M1566.0 261.3h0M1474.7 350.2h0M1472.9 279.7h0M1502.4 336.5h0M1532.1 101.2h0M1523.9 197.1h0M1438.3 306.3h0M1545.7 333.3h0M1568.8 208.5h0M1515.8 168.7h0M1488.0 128.0h0M1479.0 209.0h0M1627.9 286.1h0M1545.1 203.8h0M1593.0 167.7h0M1602.9 335.7h0M1498.9 183.6h0M1509.6 323.2h0M1371.0 152.5h0M1515.0 266.1h0M1428.1 113.0h0M1368.6 221.3h0M1571.8 290.9h0M1485.2 118.0h0M1506.9 295.9h0M1535.2 174.3h0M1632.2 203.6h0M1525.7 246.8h0M1628.3 275.6h0M1466.4 182.5h0M1586.6 188.9h0M1578.2 281.1h0M1425.1 208.3h0M1508.4 115.5h0M1613.0 200.0h0M1571.9 153.3h0M1542.0 298.4h0M1495.3 213.9h0M1535.9 355.6h0M1542.6 285.1h0M1554.1 106.9h0M1554.7 68.7h0M1565.0 324.1h0M1396.6 206.5h0M1481.5 67.7h0M1478.4 270.6h0M1569.3 286.4h0M1369.3 184.7h0M1455.0 204.0h0M1582.4 334.9h0M1589.0 110.3h0M1543.7 108.8h0M1406.9 191.1h0M1583.8 315.5h0M1513.4 155.1h0M1510.3 153.9h0M1407.7 328.3h0M1606.5 135.4h0M1532.9 246.6h0M1468.2 288.9h0M1449.3 110.6h0M1461.8 345.3h0M1479.0 109.9h0M1495.6 246.9h0M1499.8 312.0h0M1513.4 348.9h0M1351.0 197.8h0M1517.8 196.7h0M1463.5 295.5h0M1553.6 301.7h0M1600.5 290.8h0M1400.2 126.8h0M1376.9 238.6h0M1443.6 247.7h0M1596.8 176.7h0M1371.0 236.1h0M1529.1 229.1h0M1612.6 235.4h0M1591.7 192.4h0M1403.7 200.5h0M1639.4 247.7h0M1611.0 214.2h0M1388.8 286.8h0M1475.3 83.4h0M1448.7 164.5h0M1539.7 287.9h0M1581.4 247.6h0M1356.6 233.3h0M1517.8 365.6h0M1580.9 293.9h0M1566.9 276.2h0M1446.1 104.6h0M1574.8 184.4h0M1555.8 279.0h0M1503.6 143.4h0M1598.7 282.4h0M1593.9 183.0h0M1516.4 100.5h0M1507.0 142.4h0M1525.9 347.3h0M1386.5 275.1h0M1491.5 345.2h0M1606.7 233.6h0M1484.6 264.0h0M1560.1 244.2h0M1439.5 307.4h0M1499.6 119.1h0M1359.4 242.5h0M1499.6 277.5h0M1490.0 367.6h0M1574.3 302.0h0M1549.9 182.8h0M1644.7 185.7h0M1584.8 281.5h0M1519.1 214.4h0M1612.8 293.2h0M1585.0 306.1h0M1594.5 144.2h0M1622.4 220.6h0M1436.8 178.3h0M1560.0 140.1h0M1367.2 142.4h0M1416.3 211.8h0M1547.7 118.2h0M1483.7 293.8h0M1503.0 258.3h0M1643.3 238.7h0M1449.4 306.0h0M1363.5 165.1h0M1421.3 206.7h0M1461.0 272.1h0M1466.3 99.4h0M1473.4 215.9h0M1606.4 322.2h0M1361.7 161.5h0M1538.1 179.9h0M1470.3 223.7h0M1630.2 283.5h0M1360.6 179.3h0M1444.6 330.4h0M1424.2 236.6h0M1625.8 255.5h0M1377.7 230.3h0M1450.3 352.0h0M1373.1 206.7h0M1487.2 359.9h0M1593.0 123.5h0M1422.5 318.3h0M1444.2 137.5h0M1524.7 90.5h0M1540.3 66.7h0M1393.8 310.6h0M1432.8 139.2h0M1580.7 193.8h0M1365.0 210.0h0M1527.0 193.6h0M1550.2 280.2h0M1415.4 187.8h0M1578.2 177.7h0M1454.7 127.0h0M1475.7 319.5h0M1478.0 90.5h0M1529.1 278.1h0M1549.3 95.0h0M1405.3 135.5h0M1516.3 271.0h0M1587.3 127.4h0M1536.7 152.7h0M1526.5 143.7h0M1545.7 225.1h0M1450.8 217.0h0M1592.2 179.8h0M1553.7 134.0h0M1496.8 152.3h0M1638.4 253.8h0M1439.5 179.9h0M1561.5 332.8h0M1563.8 92.7h0M1520.0 219.6h0M1389.5 210.5h0M1537.0 300.6h0M1520.2 324.6h0M1421.6 314.5h0M1451.7 357.4h0M1392.8 115.4h0M1529.6 278.3h0M1391.8 234.6h0M1593.9 142.9h0M1623.4 292.2h0M1451.8 158.9h0M1393.8 290.9h0M1624.3 228.6h0M1483.1 127.3h0M1424.2 210.8h0M1495.2 134.2h0M1651.0 224.4h0M1586.8 290.2h0M1566.1 158.0h0M1384.2 155.6h0M1414.4 281.7h0M1575.5 107.0h0M1386.1 208.4h0M1359.6 263.4h0M1502.8 371.1h0M1529.7 98.5h0M1526.5 130.5h0M1418.9 94.5h0M1566.0 359.6h0M1484.6 180.9h0M1393.9 247.8h0M1500.1 325.0h0M1549.9 78.9h0M1415.2 119.6h0M1384.7 204.6h0M1360.0 196.7h0M1530.4 325.3h0M1410.8 164.6h0M1447.8 78.3h0M1493.1 119.9h0M1557.3 187.1h0M1467.7 272.3h0M1549.3 229.0h0M1484.9 156.3h0M1514.5 82.2h0M1512.9 247.0h0M1576.5 158.7h0M1416.2 92.1h0M1368.1 202.3h0M1619.8 213.2h0M1519.7 260.4h0M1368.0 227.5h0M1623.8 226.4h0M1591.6 262.1h0M1531.3 183.4h0M1462.8 68.1h0M1598.8 186.0h0M1468.2 325.4h0M1552.7 226.0h0M1463.9 243.1h0M1520.4 255.2h0M1460.0 197.3h0M1599.5 207.7h0M1505.6 73.2h0M1544.0 299.8h0M1645.3 168.6h0M1582.9 86.4h0M1599.0 273.3h0M1477.5 154.0h0M1625.0 184.3h0M1609.9 184.5h0M1546.8 349.2h0M1513.7 64.3h0M1467.9 231.4h0M1512.3 289.2h0M1518.5 207.6h0M1409.0 161.5h0M1593.6 222.6h0M1591.5 173.5h0M1608.1 300.3h0M1508.2 351.8h0M1622.1 154.4h0M1500.7 285.3h0M1417.6 199.6h0M1535.2 204.9h0M1587.6 321.3h0M1398.6 130.6h0M1450.6 232.8h0M1407.1 257.2h0M1428.6 354.6h0M1596.0 332.8h0M1488.1 312.3h0M1413.7 117.6h0M1516.8 231.6h0M1429.8 205.1h0M1533.0 188.5h0M1408.2 96.8h0M1389.9 186.9h0M1436.9 319.3h0M1426.4 300.1h0M1610.7 200.8h0M1504.5 308.0h0M1385.2 164.0h0M1549.1 121.6h0M1512.5 280.7h0M1481.8 269.9h0M1601.4 201.5h0M1530.4 371.6h0M1422.2 247.3h0M1634.1 190.9h0M1443.8 100.9h0M1396.4 219.9h0M1518.1 120.2h0M1407.9 147.7h0M1524.4 106.9h0M1590.9 146.0h0M1598.4 208.1h0M1531.6 101.3h0M1501.9 362.3h0M1594.5 218.2h0M1641.1 244.8h0M1390.8 152.7h0M1431.9 144.7h0M1565.0 266.9h0M1505.0 89.5h0M1378.1 207.2h0M1436.1 221.9h0M1435.9 234.9h0M1467.5 218.9h0M1365.2 203.5h0M1538.3 249.6h0M1387.6 188.4h0M1500.5 328.6h0M1378.2 168.6h0M1471.4 271.6h0M1554.3 319.6h0M1485.9 219.9h0M1441.8 230.6h0M1546.1 206.0h0M1615.8 128.0h0M1411.3 341.2h0M1464.4 365.3h0M1364.7 283.7h0M1455.2 89.8h0M1370.1 296.3h0M1443.3 245.5h0M1491.9 237.6h0M1608.4 325.1h0M1554.9 252.4h0M1454.2 357.2h0M1454.7 224.0h0M1422.9 131.8h0M1528.2 190.9h0M1613.4 306.1h0M1406.9 281.3h0M1492.1 76.2h0M1544.1 299.3h0M1527.0 215.2h0M1580.3 329.2h0M1494.0 249.4h0M1535.8 168.8h0M1487.1 305.4h0M1430.3 284.4h0M1505.2 233.3h0M1427.5 214.2h0M1542.0 188.9h0M1407.9 187.7h0M1547.2 357.2h0M1550.5 294.6h0M1486.8 349.9h0M1530.6 141.1h0M1521.8 351.6h0M1604.4 119.7h0M1562.2 329.9h0M1415.3 327.6h0M1413.6 198.5h0M1402.1 331.1h0M1453.9 81.1h0M1637.7 208.9h0M1643.3 174.2h0M1610.1 123.3h0M1440.1 262.5h0M1556.4 122.8h0M1380.9 140.3h0M1413.2 196.3h0M1436.9 228.2h0M1375.3 211.5h0M1492.8 234.1h0M1562.4 322.3h0M1484.9 120.2h0M1405.1 257.0h0M1438.8 174.1h0M1542.8 344.3h0M1464.4 193.5h0M1424.0 96.6h0M1492.8 254.0h0M1440.7 107.2h0M1624.0 120.5h0M1563.0 308.2h0M1538.3 148.8h0M1487.8 316.2h0M1379.2 266.0h0M1650.9 177.5h0M1471.4 174.3h0M1379.5 168.8h0M1515.9 102.0h0M1426.9 266.7h0M1515.2 109.1h0M1635.6 208.4h0M1497.2 104.7h0M1514.5 137.0h0M1640.8 245.3h0M1505.6 303.8h0M1452.8 183.7h0M1457.4 154.4h0M1600.2 335.6h0M1455.3 86.6h0M1500.1 194.5h0M1588.4 177.4h0M1485.5 143.8h0M1572.4 334.2h0M1510.5 278.3h0M1461.2 77.9h0M1503.2 238.7h0M1388.9 181.0h0M1384.8 137.7h0M1446.0 241.4h0M1602.3 228.1h0M1450.6 192.4h0M1558.1 237.2h0M1512.4 248.4h0M1563.3 158.9h0M1564.5 255.1h0M1380.7 122.7h0M1612.2 129.9h0M1474.4 366.7h0M1479.4 207.1h0M1538.6 281.7h0M1593.9 280.7h0M1549.3 139.2h0M1647.6 170.0h0M1437.0 324.6h0M1370.9 294.4h0M1409.7 185.5h0M1546.1 110.6h0M1506.3 109.5h0M1378.2 276.0h0M1416.8 271.5h0M1569.9 241.6h0M1400.6 129.4h0M1420.5 253.1h0M1358.8 254.3h0M1394.6 149.8h0M1377.2 222.3h0M1587.6 215.2h0M1639.7 193.2h0M1502.7 247.0h0M1457.7 125.4h0M1354.6 209.2h0M1572.2 258.6h0M1480.6 313.0h0M1648.5 240.1h0M1500.1 244.0h0M1460.6 140.9h0M1543.2 172.8h0M1592.8 184.6h0M1482.9 308.9h0M1463.1 118.8h0M1517.1 325.1h0M1451.0 124.2h0M1495.7 76.9h0M1519.6 72.9h0M1498.6 166.4h0M1557.0 346.4h0M1467.0 114.4h0M1633.2 255.0h0M1474.6 238.5h0M1509.5 87.4h0M1503.0 346.2h0M1511.8 277.2h0M1470.7 176.2h0M1415.2 316.3h0M1375.0 195.7h0M1376.5 216.8h0M1477.7 154.7h0M1518.1 142.4h0M1373.7 162.9h0M1516.2 171.2h0M1464.0 231.4h0M1537.3 124.4h0M1414.1 207.2h0M1564.8 182.2h0M1605.0 198.7h0M1453.3 284.4h0M1543.1 365.8h0M1507.4 165.6h0M1406.5 123.0h0M1450.4 267.3h0M1484.8 366.7h0M1417.6 257.7h0M1566.4 260.7h0M1591.7 149.2h0M1359.4 161.7h0M1548.9 183.2h0M1404.5 321.3h0M1457.8 214.4h0M1486.0 159.0h0M1546.0 316.8h0M1362.4 262.6h0M1403.9 121.4h0M1645.3 167.1h0M1474.4 171.8h0M1486.8 315.1h0M1449.0 263.6h0M1644.9 205.9h0M1485.2 98.0h0M1509.2 361.7h0M1576.4 174.2h0M1613.2 119.9h0M1568.0 109.3h0M1556.2 206.3h0M1542.7 86.5h0M1469.1 292.6h0M1594.4 138.2h0M1488.7 132.8h0M1522.3 145.9h0M1473.3 147.7h0M1422.0 98.5h0M1565.0 112.0h0M1533.2 259.5h0M1424.0 203.3h0M1367.8 182.3h0M1586.8 214.3h0M1368.1 260.6h0M1373.1 167.9h0M1606.7 99.6h0M1378.2 282.2h0M1528.8 79.1h0M1452.9 173.9h0M1570.5 94.3h0M1398.4 294.1h0M1623.1 309.5h0M1495.1 274.2h0M1477.6 333.1h0M1510.9 272.8h0M1530.0 263.8h0M1417.6 117.8h0M1520.6 163.3h0M1495.9 365.8h0M1483.2 103.2h0M1575.5 86.9h0M1419.7 264.5h0M1590.3 236.4h0M1593.3 317.6h0M1448.6 227.3h0M1464.1 231.3h0M1598.0 330.0h0M1584.7 328.9h0M1484.3 277.2h0M1511.5 221.9h0M1478.5 260.4h0M1536.7 323.6h0M1599.2 100.3h0M1354.2 203.7h0M1549.8 165.4h0M1538.8 117.4h0M1466.0 117.9h0M1417.3 312.4h0M1547.6 153.7h0M1497.1 357.9h0M1606.0 274.0h0M1473.2 67.3h0M1480.9 334.1h0M1416.9 88.4h0M1542.1 310.5h0M1465.0 140.2h0M1445.8 79.9h0M1467.9 161.0h0M1529.9 254.8h0M1477.2 249.7h0M1428.1 111.4h0M1536.6 277.0h0M1389.5 238.4h0M1567.5 352.2h0M1438.3 293.9h0M1595.8 176.4h0M1580.3 218.6h0M1541.1 90.9h0M1566.5 162.2h0M1485.7 218.0h0M1450.9 81.0h0M1579.6 164.2h0M1520.8 154.0h0M1393.0 144.8h0M1564.9 223.9h0M1600.0 178.7h0M1602.0 306.9h0M1551.1 215.9h0M1469.5 293.2h0M1563.3 189.6h0M1365.5 255.2h0M1495.4 288.6h0M1539.7 306.4h0M1532.5 300.2h0M1581.7 288.6h0M1424.0 325.3h0M1534.1 229.5h0M1430.1 202.3h0M1591.4 298.7h0M1523.1 88.1h0M1594.5 137.5h0M1483.8 264.2h0M1585.1 287.9h0M1451.7 335.0h0M1650.3 243.4h0M1520.4 202.6h0M1525.4 252.8h0M1436.6 205.3h0M1576.8 257.7h0M1633.8 285.5h0M1625.7 212.5h0M1387.7 170.4h0M1507.9 58.0h0M1386.9 239.4h0M1469.5 326.8h0M1466.7 198.7h0M1451.2 171.5h0M1635.6 155.8h0M1370.3 198.2h0M1477.3 122.8h0M1490.5 95.4h0M1434.4 278.3h0M1544.6 336.2h0M1595.1 222.3h0M1400.7 105.1h0M1602.0 324.4h0M1379.8 254.0h0M1603.2 333.4h0M1357.6 166.1h0M1489.6 221.7h0M1469.2 66.8h0M1508.1 204.2h0M1441.3 213.0h0M1598.8 201.9h0M1583.0 269.2h0M1650.4 248.2h0M1524.8 254.8h0M1486.1 103.9h0M1450.2 310.3h0M1367.8 216.1h0M1602.7 105.9h0M1522.1 82.4h0M1541.9 326.6h0M1570.6 203.5h0M1456.0 162.3h0M1408.5 190.0h0M1584.2 323.2h0M1545.0 172.2h0M1445.5 243.6h0M1522.3 207.6h0M1362.9 176.8h0M1620.8 257.7h0M1502.0 374.3h0M1514.6 77.7h0M1436.9 249.8h0M1444.6 335.8h0M1417.2 99.0h0M1532.8 215.0h0M1635.0 211.5h0M1448.5 203.8h0M1555.3 97.9h0M1467.4 218.7h0M1493.5 274.7h0M1385.2 169.4h0M1559.3 84.6h0M1486.9 325.1h0M1474.9 320.2h0M1435.5 214.9h0M1467.0 367.6h0M1581.8 210.4h0M1420.7 81.8h0M1596.3 302.5h0M1607.5 261.3h0M1644.2 276.7h0M1551.3 184.5h0M1629.4 168.8h0M1384.1 129.4h0M1514.2 225.6h0M1410.0 164.9h0M1529.4 283.2h0M1363.0 173.1h0M1413.7 122.3h0M1445.1 132.0h0M1422.4 173.9h0M1585.1 145.4h0M1477.8 170.5h0M1576.0 137.1h0M1547.5 290.3h0M1565.7 287.7h0M1544.1 326.5h0M1499.4 211.5h0M1605.7 204.3h0M1386.3 132.0h0M1548.6 297.4h0M1424.6 195.8h0M1554.3 177.3h0M1499.5 198.4h0M1378.7 254.9h0M1409.7 116.3h0M1549.8 279.6h0M1505.0 113.4h0M1515.2 209.8h0M1554.7 98.3h0M1544.8 336.5h0M1561.7 234.8h0M1464.8 347.7h0M1544.3 283.4h0M1616.0 187.0h0M1508.8 243.0h0M1461.3 88.3h0M1604.2 184.5h0M1589.4 266.1h0M1351.0 199.4h0M1542.3 336.4h0M1518.4 201.1h0M1531.8 295.1h0M1555.5 258.5h0M1580.8 246.6h0M1602.0 142.1h0M1595.5 154.5h0M1533.0 105.7h0M1477.2 110.0h0M1547.5 327.8h0M1593.5 187.7h0M1447.9 86.2h0M1482.8 331.6h0M1607.9 106.5h0M1472.8 116.8h0M1492.5 261.6h0M1499.5 287.6h0M1357.2 219.6h0M1408.5 257.5h0M1560.2 279.0h0M1530.4 357.2h0M1543.6 184.2h0M1538.1 260.0h0M1468.8 298.5h0M1403.2 320.8h0M1451.1 288.1h0M1560.7 125.8h0M1639.3 164.9h0M1433.8 153.0h0M1607.9 286.8h0M1542.5 239.8h0M1498.0 182.1h0M1575.1 214.3h0M1404.6 219.3h0M1373.5 259.1h0M1612.2 201.9h0M1407.2 97.2h0M1559.4 166.8h0M1437.2 261.5h0M1578.8 160.0h0M1511.8 218.3h0M1560.1 161.2h0M1416.7 166.5h0M1633.1 297.2h0M1651.3 206.2h0M1527.8 62.3h0M1631.4 219.7h0M1631.2 159.9h0M1486.1 162.8h0M1550.0 319.5h0M1521.8 341.4h0M1599.5 112.6h0M1594.7 267.7h0M1414.6 276.6h0M1520.9 282.5h0M1467.4 181.3h0M1602.8 318.5h0M1586.8 169.3h0M1482.3 313.5h0M1573.8 256.7h0M1580.0 265.3h0M1468.8 124.1h0M1518.7 307.4h0M1484.9 69.3h0M1410.0 171.8h0M1471.6 126.1h0M1603.4 124.9h0M1528.0 331.0h0M1554.8 216.4h0M1361.3 256.6h0M1552.8 247.4h0M1445.0 302.5h0M1362.0 265.3h0M1614.3 151.5h0M1619.1 191.0h0M1410.8 129.2h0M1486.9 287.3h0M1632.3 152.4h0M1560.5 254.4h0" fill="none" stroke="#c4bfbf" stroke-width="1.6" stroke-linecap="round" stroke-opacity="0.75"/>
<path d="M1402.9 164.2h0M1575.9 285.2h0M1410.1 89.9h0M1530.2 241.8h0M1364.7 170.5h0M1486.5 183.1h0M1529.5 70.4h0M1517.9 101.4h0M1467.6 281.7h0M1644.1 202.2h0M1424.3 88.1h0M1524.1 127.4h0M1544.3 260.1h0M1523.0 159.2h0M1595.2 173.7h0M1506.4 225.1h0M1363.3 159.8h0M1436.4 93.2h0M1349.8 228.6h0M1372.7 287.0h0M1499.3 277.2h0M1516.7 172.5h0M1441.6 315.9h0M1530.6 246.7h0M1482.5 190.0h0M1361.8 212.0h0M1556.9 108.6h0M1493.7 216.6h0M1376.3 233.2h0M1549.1 279.8h0M1618.9 156.3h0M1641.9 175.5h0M1491.1 110.2h0M1496.4 335.5h0M1638.5 174.3h0M1598.9 216.1h0M1480.6 90.5h0M1517.5 141.1h0M1474.3 151.7h0M1586.9 199.3h0M1511.2 290.0h0M1388.1 309.3h0M1485.8 58.6h0M1470.8 276.0h0M1540.1 224.6h0M1496.6 352.9h0M1545.4 87.2h0M1463.3 302.4h0M1562.6 249.5h0M1428.5 212.5h0M1364.9 238.7h0M1505.9 227.6h0M1479.4 327.9h0M1586.1 286.1h0M1602.5 145.3h0M1385.6 298.4h0M1504.9 350.9h0M1614.2 246.4h0M1428.0 221.1h0M1617.2 283.1h0M1352.1 223.9h0M1572.0 337.2h0M1586.1 253.6h0M1528.1 273.9h0M1442.0 144.2h0M1392.2 175.0h0M1501.1 181.2h0M1643.9 221.8h0M1589.1 238.2h0M1500.4 125.4h0M1466.8 284.3h0M1607.1 201.7h0M1411.5 324.4h0M1533.2 190.3h0M1541.5 245.1h0M1609.0 190.8h0M1532.6 179.6h0M1394.7 222.4h0M1423.8 273.9h0M1524.0 294.2h0M1407.7 215.3h0M1571.7 108.5h0M1551.9 307.9h0M1461.4 342.0h0M1520.1 349.5h0M1521.9 84.9h0M1443.0 198.9h0M1379.7 206.3h0M1495.6 290.7h0M1595.8 317.4h0M1412.9 106.2h0M1406.2 332.2h0M1633.7 266.6h0M1514.7 158.0h0M1595.6 137.9h0M1431.1 85.4h0M1510.7 206.2h0M1439.2 150.7h0M1401.2 271.3h0M1625.6 195.9h0M1397.5 150.7h0M1629.3 249.6h0M1569.6 218.7h0M1405.6 134.9h0M1514.9 243.7h0M1554.0 229.4h0M1547.2 206.1h0M1476.5 161.9h0M1419.3 264.5h0M1382.7 119.3h0M1385.5 126.5h0M1398.3 272.8h0M1526.6 194.8h0M1481.3 360.6h0M1601.1 276.1h0M1543.4 346.7h0M1620.3 290.5h0M1515.1 336.0h0M1652.4 249.0h0M1622.5 129.5h0M1584.6 324.7h0M1512.4 244.3h0M1529.9 366.6h0M1624.2 303.4h0M1547.3 284.5h0M1538.9 210.9h0M1542.4 312.2h0M1496.1 179.3h0M1430.4 341.1h0M1483.4 216.9h0M1479.5 121.0h0M1579.7 308.4h0M1572.6 311.8h0M1574.3 339.7h0M1426.1 282.1h0M1551.8 73.3h0M1635.8 189.6h0M1409.7 110.1h0M1599.4 277.4h0M1593.7 223.0h0M1493.1 79.7h0M1549.7 187.1h0M1383.9 285.2h0M1442.8 342.5h0M1462.7 192.9h0M1439.2 346.2h0M1402.8 171.6h0M1440.5 312.1h0M1603.3 135.0h0M1546.6 259.4h0M1502.6 249.2h0M1555.3 145.6h0M1517.8 302.7h0M1370.5 266.5h0M1558.1 250.3h0M1482.7 314.6h0M1525.1 68.9h0M1520.7 145.8h0M1398.0 300.9h0M1403.3 265.3h0M1400.2 205.8h0M1452.3 285.7h0M1548.0 108.4h0M1371.7 249.5h0M1655.5 226.7h0M1636.0 240.1h0M1532.8 75.0h0M1471.8 276.3h0M1557.4 95.4h0M1501.1 207.7h0M1432.1 91.5h0M1646.9 188.9h0M1475.0 304.5h0M1551.8 260.3h0M1453.2 200.2h0M1493.8 166.2h0M1582.7 130.4h0M1545.9 168.9h0M1538.5 315.3h0M1459.7 257.0h0M1378.3 184.5h0M1566.1 307.2h0M1441.9 225.6h0M1377.0 164.3h0M1449.3 279.8h0M1585.5 180.6h0M1517.9 113.5h0M1600.1 261.6h0M1467.6 189.5h0M1545.2 323.5h0M1534.8 265.8h0M1575.9 211.0h0M1447.3 189.5h0M1556.7 156.0h0M1571.3 152.4h0M1545.5 164.8h0M1578.2 265.6h0M1575.5 231.8h0M1535.4 368.2h0M1446.6 69.8h0M1607.9 313.0h0M1442.2 163.0h0M1413.6 104.6h0M1366.2 235.2h0M1468.5 285.7h0M1605.7 284.6h0M1532.4 314.4h0M1356.3 219.2h0M1392.5 222.2h0M1510.3 259.3h0M1539.2 244.1h0M1641.7 214.3h0M1594.9 110.6h0M1524.4 148.7h0M1466.6 290.2h0M1469.0 345.1h0M1415.6 157.6h0M1533.5 164.6h0M1460.2 148.4h0M1492.0 185.5h0M1577.1 168.5h0M1528.0 167.2h0M1479.5 306.4h0M1483.2 364.5h0M1499.4 149.0h0M1596.8 282.6h0M1530.5 255.1h0M1555.1 271.6h0M1603.4 177.4h0M1538.1 130.8h0M1529.3 67.5h0M1625.9 188.2h0M1595.2 324.2h0M1612.3 139.0h0M1564.6 91.0h0M1520.5 138.6h0M1511.6 326.9h0M1608.7 282.6h0M1439.1 319.4h0M1553.4 221.4h0M1385.5 261.9h0M1595.1 137.0h0M1376.2 260.3h0M1573.1 303.7h0M1566.5 108.0h0M1478.7 272.8h0M1448.8 157.0h0M1377.6 198.8h0M1409.2 274.3h0M1430.4 178.9h0M1619.7 126.4h0M1556.0 100.8h0M1434.3 76.1h0M1513.3 186.5h0M1456.7 66.9h0M1412.8 334.6h0M1649.3 207.0h0M1398.9 311.0h0M1523.4 291.2h0M1515.4 314.4h0M1557.4 103.1h0M1610.0 302.7h0M1508.8 212.2h0M1415.9 132.4h0M1501.7 191.4h0M1445.4 280.5h0M1407.4 134.0h0M1487.6 75.4h0M1418.2 90.0h0M1582.2 80.9h0M1575.8 226.0h0M1580.1 172.7h0M1525.2 68.3h0M1453.6 205.7h0M1593.4 177.5h0M1521.8 298.6h0M1453.1 94.5h0M1584.6 177.7h0M1435.8 131.5h0M1621.7 256.3h0M1567.9 248.5h0M1468.4 166.9h0M1627.3 170.3h0M1519.7 337.3h0M1501.7 94.9h0M1408.4 245.9h0M1363.0 189.2h0M1517.5 256.9h0M1399.3 329.5h0M1554.4 105.3h0M1487.3 141.7h0M1549.2 340.4h0M1542.8 279.0h0M1588.9 340.5h0M1479.0 103.3h0M1362.4 266.0h0M1623.7 273.3h0M1494.0 66.6h0M1551.2 202.6h0M1380.8 286.5h0M1488.5 208.7h0M1436.5 345.2h0M1407.1 103.5h0M1507.7 367.9h0M1633.7 208.1h0M1415.9 193.6h0M1422.8 336.3h0M1544.1 175.2h0M1416.2 241.4h0M1490.9 238.6h0M1457.5 333.2h0M1595.4 291.0h0M1484.4 163.2h0M1364.6 194.7h0M1457.4 274.6h0M1525.5 145.7h0M1617.9 216.0h0M1356.5 213.7h0M1608.2 184.4h0M1482.8 135.8h0M1455.7 254.9h0M1491.4 210.4h0M1408.0 325.2h0M1524.1 265.1h0M1431.9 277.9h0M1622.4 297.8h0M1383.8 309.6h0M1640.4 220.1h0M1491.0 214.9h0M1615.3 135.8h0M1455.5 175.5h0M1421.9 221.9h0M1631.3 292.1h0M1544.1 197.0h0M1450.2 225.3h0M1615.5 207.4h0M1457.5 222.5h0M1519.7 138.7h0M1622.5 303.8h0M1599.3 146.0h0M1526.8 172.1h0M1489.5 177.1h0M1553.3 209.8h0M1505.8 138.1h0M1434.7 275.6h0M1524.3 343.8h0M1398.1 249.0h0M1477.3 259.6h0M1354.8 173.9h0M1532.5 136.1h0M1627.5 253.6h0M1590.9 240.8h0M1589.4 214.0h0M1423.2 199.5h0M1429.7 79.4h0M1468.1 70.3h0M1547.2 286.3h0M1555.8 143.1h0M1483.8 284.2h0M1406.4 117.2h0M1411.1 186.5h0M1564.7 265.4h0M1461.2 296.3h0M1440.8 258.6h0M1520.3 319.8h0M1358.7 265.7h0M1491.6 134.8h0M1547.5 161.7h0M1476.0 365.6h0M1525.7 135.4h0M1469.7 113.5h0M1476.6 350.2h0M1634.3 238.9h0M1496.3 218.6h0M1516.7 131.6h0M1531.2 88.9h0M1616.0 302.1h0M1407.7 254.1h0M1417.0 125.8h0M1462.9 141.5h0M1463.5 326.0h0M1550.4 129.7h0M1501.6 293.8h0M1575.7 188.0h0M1646.2 167.4h0M1607.5 210.9h0M1632.7 161.5h0M1466.7 304.9h0M1553.5 141.7h0M1396.1 329.4h0M1596.0 295.4h0M1503.9 347.0h0M1380.9 291.4h0M1504.3 182.1h0M1461.3 144.3h0M1376.1 165.9h0M1559.8 191.1h0M1411.5 286.6h0M1455.5 189.2h0M1444.3 213.3h0M1533.3 149.4h0M1450.8 96.2h0M1447.9 200.5h0M1477.6 167.0h0M1465.2 291.0h0M1590.2 304.6h0M1358.4 246.1h0M1642.6 238.8h0M1446.9 248.3h0M1425.4 331.6h0M1394.7 319.8h0M1465.1 281.7h0M1604.9 224.6h0M1487.2 123.6h0M1484.3 363.8h0M1521.6 201.4h0M1496.0 233.2h0M1464.7 324.1h0M1487.8 124.3h0M1475.5 266.9h0M1464.9 184.7h0M1510.8 331.7h0M1512.4 107.8h0M1418.3 345.5h0M1607.5 314.2h0M1550.1 202.9h0M1589.8 176.1h0M1517.2 274.8h0M1621.7 310.4h0M1596.7 163.4h0M1459.9 87.9h0M1390.7 174.7h0M1547.1 296.8h0M1498.9 88.5h0M1387.6 204.1h0M1645.8 230.3h0M1638.3 269.7h0M1516.7 356.9h0M1359.1 240.8h0M1434.9 253.7h0M1460.7 333.0h0M1494.8 320.7h0M1394.7 300.5h0M1485.5 307.6h0M1533.3 87.4h0M1510.0 372.9h0M1449.9 138.4h0M1437.4 211.5h0M1409.8 183.6h0M1577.8 263.7h0M1599.7 101.5h0M1541.3 80.3h0M1478.4 271.1h0M1370.0 204.6h0M1450.2 279.1h0M1547.2 92.4h0M1490.3 106.1h0M1392.5 252.3h0M1632.0 287.3h0M1628.8 179.2h0M1453.0 170.4h0M1605.6 115.1h0M1460.3 185.4h0M1558.4 159.9h0M1638.2 290.5h0M1450.0 188.5h0M1497.8 358.3h0M1546.0 190.7h0M1426.2 194.9h0M1466.0 333.9h0M1649.9 207.0h0M1647.4 195.3h0M1481.5 75.0h0M1620.5 296.1h0M1428.3 208.2h0M1601.1 205.0h0M1567.7 158.8h0M1538.3 345.5h0M1583.4 121.4h0M1426.0 123.8h0M1492.9 235.6h0M1541.1 353.9h0M1577.4 90.4h0M1463.3 274.4h0M1429.9 128.9h0M1583.2 259.6h0M1433.7 244.3h0M1656.1 205.7h0M1450.6 287.9h0M1427.9 120.9h0M1555.3 264.3h0M1590.8 262.4h0M1573.4 155.6h0M1561.8 235.8h0M1382.5 209.0h0M1577.3 83.1h0M1428.3 240.8h0M1567.4 182.2h0M1538.3 173.9h0M1536.9 176.7h0M1562.9 265.4h0M1431.2 200.8h0M1578.4 87.3h0M1552.3 296.9h0M1428.2 123.6h0M1396.5 209.7h0M1568.7 330.5h0M1584.4 120.6h0M1591.9 272.4h0M1470.8 266.5h0M1413.7 96.1h0M1359.4 228.8h0M1552.8 149.4h0M1432.8 115.8h0M1459.3 134.8h0M1534.6 200.8h0M1415.7 143.5h0M1540.4 235.6h0M1511.8 60.3h0M1368.9 173.7h0M1456.2 292.8h0M1607.8 106.5h0M1582.6 128.6h0M1391.5 225.6h0M1488.2 283.0h0M1606.4 187.1h0M1462.8 124.8h0M1587.7 187.5h0M1441.5 85.0h0M1409.6 244.1h0M1438.7 119.9h0M1449.9 73.2h0M1597.1 279.8h0M1546.5 165.4h0M1540.0 113.2h0M1420.8 189.5h0M1480.9 322.1h0M1378.9 165.9h0M1507.2 152.5h0M1537.8 161.4h0M1515.4 96.7h0M1556.3 283.0h0M1575.8 157.3h0M1462.9 141.1h0M1472.7 186.2h0M1542.3 148.5h0M1461.7 116.3h0M1519.3 295.1h0M1544.0 81.0h0M1497.9 267.3h0M1460.7 208.6h0M1544.8 179.4h0M1391.1 134.8h0M1523.2 264.7h0M1432.4 226.7h0M1637.0 271.7h0M1593.7 191.1h0M1374.5 246.5h0M1641.9 237.7h0M1633.5 191.4h0M1526.8 277.2h0M1519.0 169.2h0M1489.5 287.7h0M1497.4 201.6h0M1452.0 342.8h0M1370.3 202.5h0M1599.2 133.8h0M1541.3 190.5h0M1517.3 164.0h0M1520.2 192.7h0M1578.5 200.5h0M1577.3 159.7h0M1367.9 158.0h0M1423.4 181.3h0M1580.9 98.3h0M1393.8 221.7h0M1553.7 278.6h0M1509.0 304.0h0M1603.7 293.9h0M1410.8 151.9h0M1536.7 197.1h0M1510.0 259.8h0M1495.1 296.8h0M1404.4 123.2h0M1417.6 325.2h0M1629.8 222.5h0M1444.6 340.7h0M1389.6 210.0h0M1547.8 188.5h0M1439.9 353.8h0M1408.9 304.6h0M1443.2 124.2h0M1586.8 179.8h0M1475.8 343.2h0M1583.6 307.5h0M1607.4 139.4h0M1607.4 204.1h0M1421.4 276.3h0M1587.8 212.2h0M1594.4 225.4h0M1620.4 294.4h0M1388.2 232.5h0M1480.4 83.6h0M1456.0 241.9h0M1396.2 103.9h0M1461.2 347.9h0M1429.3 148.5h0M1529.5 165.6h0M1416.3 335.1h0M1525.3 307.4h0M1473.6 301.8h0M1474.6 195.7h0M1603.9 271.2h0M1556.0 94.8h0M1485.6 205.9h0M1444.3 236.3h0M1506.9 105.9h0M1581.1 323.5h0M1536.5 190.3h0M1434.7 168.4h0M1628.9 235.1h0M1454.2 201.9h0M1390.7 124.3h0M1455.0 98.2h0M1548.8 100.1h0M1366.6 151.1h0M1564.8 85.6h0M1465.6 156.9h0M1478.2 156.6h0M1536.0 112.6h0M1544.7 316.5h0M1624.8 286.5h0M1456.5 320.2h0M1476.5 165.4h0M1546.6 313.6h0M1393.8 243.7h0M1506.9 347.5h0M1388.5 247.5h0M1432.0 147.7h0M1411.8 306.4h0M1379.5 309.7h0M1529.9 174.8h0M1380.7 263.1h0M1468.9 360.7h0M1459.8 104.9h0M1590.2 156.2h0M1467.5 208.3h0M1439.4 299.4h0M1432.6 274.9h0M1411.4 236.0h0M1425.3 194.4h0M1440.6 314.9h0M1460.1 175.8h0M1429.5 314.0h0M1530.9 138.1h0M1422.7 153.2h0M1360.3 171.3h0M1598.3 335.0h0M1547.3 322.8h0M1433.6 141.4h0M1496.1 184.7h0M1351.3 208.1h0M1478.7 335.8h0M1532.6 368.6h0M1565.2 294.6h0M1565.3 88.0h0M1452.6 245.4h0M1557.7 345.9h0M1507.2 188.5h0M1559.1 154.6h0M1459.5 167.2h0M1504.8 350.8h0M1592.8 134.4h0M1610.2 314.2h0M1471.2 78.5h0M1491.0 147.7h0M1449.3 105.9h0M1427.7 181.2h0M1636.2 256.6h0M1568.8 168.7h0M1517.5 97.0h0M1403.5 327.5h0M1582.7 83.3h0M1407.1 188.5h0M1598.4 218.4h0M1488.0 339.9h0M1567.2 263.9h0M1604.5 256.0h0M1515.3 116.6h0M1621.6 161.0h0M1510.7 256.3h0M1518.1 365.9h0M1653.3 186.1h0M1377.6 224.6h0M1368.6 280.0h0M1549.3 114.3h0M1513.6 363.8h0M1362.3 227.0h0M1578.3 221.4h0M1599.3 178.0h0M1445.1 274.0h0M1449.2 149.0h0M1567.6 166.2h0M1580.8 144.2h0M1545.5 231.6h0M1585.8 344.8h0M1549.5 139.0h0M1477.3 319.2h0M1416.5 107.7h0M1538.3 209.7h0M1488.3 189.6h0M1369.3 210.7h0M1517.0 175.6h0M1593.7 195.5h0M1486.8 175.9h0M1546.5 317.1h0M1483.3 217.3h0M1594.3 326.5h0M1492.9 270.1h0M1579.9 318.9h0M1474.0 98.9h0M1604.1 133.8h0M1408.4 133.2h0M1631.4 236.1h0M1523.5 284.9h0M1605.0 107.9h0M1564.5 352.0h0M1616.3 169.2h0M1501.0 177.1h0M1452.0 264.3h0M1563.5 235.7h0M1457.0 179.7h0M1636.1 246.4h0M1493.1 241.6h0M1572.6 228.8h0M1452.9 186.8h0M1372.5 257.9h0M1526.7 128.1h0M1535.4 280.6h0M1442.5 96.8h0M1584.3 117.9h0M1639.1 238.8h0M1417.7 341.3h0M1397.5 180.7h0M1430.1 206.0h0M1416.4 264.4h0M1465.6 218.1h0M1434.5 210.1h0M1541.5 168.2h0M1453.3 286.2h0M1603.2 252.7h0M1416.9 89.5h0M1386.4 156.3h0M1424.6 263.0h0M1604.1 249.4h0M1369.9 218.4h0M1559.0 249.7h0M1362.9 241.5h0M1503.4 291.3h0M1512.4 338.2h0M1603.0 161.7h0M1363.6 232.2h0M1603.4 156.4h0M1479.2 343.5h0M1540.6 289.5h0M1529.5 224.7h0M1478.9 300.7h0M1567.7 134.0h0M1625.1 257.5h0M1540.1 338.3h0M1546.2 175.2h0M1414.6 267.3h0M1379.6 217.8h0M1524.8 357.1h0M1602.3 169.3h0M1429.7 116.5h0M1572.1 163.1h0M1450.0 201.0h0M1649.9 253.5h0M1536.2 352.2h0M1479.6 118.7h0M1573.9 355.2h0M1494.4 217.1h0M1466.4 172.7h0M1432.0 116.8h0M1528.1 121.3h0M1554.7 166.8h0M1574.1 273.5h0M1523.9 128.2h0M1576.5 294.5h0M1536.7 152.5h0M1495.4 350.9h0M1471.7 337.3h0M1450.4 139.0h0M1539.0 184.8h0M1568.4 154.6h0M1532.6 276.5h0M1461.6 283.2h0M1463.5 188.1h0M1457.6 360.0h0M1412.2 266.3h0M1634.3 206.6h0M1362.0 271.1h0M1584.5 302.5h0M1496.8 197.6h0M1374.7 191.8h0M1554.0 186.2h0M1618.6 211.0h0M1431.9 229.3h0M1360.1 157.8h0M1490.1 71.8h0M1580.6 97.9h0M1565.0 257.7h0M1545.3 99.5h0M1472.3 308.7h0M1611.5 231.4h0M1405.1 191.8h0M1583.7 344.1h0M1402.1 204.1h0M1500.2 121.3h0M1504.9 302.2h0M1538.9 100.5h0M1498.5 166.7h0M1473.0 278.5h0M1420.0 166.3h0M1475.2 343.0h0M1413.1 279.8h0M1586.9 257.6h0M1440.3 134.6h0M1532.8 125.8h0M1479.1 232.5h0M1598.4 331.5h0M1372.9 193.1h0M1507.1 57.9h0M1512.0 345.1h0M1499.8 336.1h0M1583.2 290.3h0M1457.1 163.1h0M1621.3 147.4h0M1358.8 269.4h0M1496.4 348.8h0M1500.4 303.4h0M1641.2 164.9h0M1569.0 335.0h0M1478.3 149.1h0M1488.9 311.9h0M1435.6 168.6h0M1566.7 253.0h0M1493.0 231.1h0M1478.8 261.8h0M1534.6 352.5h0M1506.6 287.2h0M1585.4 188.9h0M1555.2 68.5h0M1540.8 132.8h0M1398.1 115.5h0M1576.5 121.1h0M1422.9 311.4h0M1483.4 237.4h0M1544.2 276.9h0M1565.6 82.7h0M1469.7 149.5h0M1636.5 210.5h0M1457.5 360.0h0M1497.6 128.6h0M1437.1 171.0h0M1552.1 94.2h0M1523.9 148.5h0M1413.6 238.1h0M1598.0 332.8h0M1623.6 285.6h0M1541.6 219.0h0M1653.4 213.2h0M1484.5 201.3h0M1479.5 271.7h0M1437.1 237.2h0M1376.6 251.7h0M1410.8 239.7h0M1605.3 184.1h0M1429.5 123.7h0M1530.7 154.1h0M1478.2 104.2h0M1627.8 241.7h0M1514.7 369.4h0M1479.1 285.1h0M1361.2 243.5h0M1505.5 195.9h0M1432.7 269.4h0M1356.6 209.6h0M1584.3 270.2h0" fill="none" stroke="#d4d0d0" stroke-width="2.1" stroke-linecap="round" stroke-opacity="0.85"/>
<path d="M1522.9 339.8h0M1416.7 169.5h0M1491.9 131.7h0M1411.1 331.6h0M1423.6 303.3h0M1604.2 317.9h0M1643.7 155.3h0M1592.6 332.5h0M1638.6 202.8h0M1489.9 370.9h0M1429.7 193.2h0M1367.7 252.6h0M1572.6 305.2h0M1402.4 105.0h0M1577.5 247.7h0M1567.6 85.6h0M1376.6 197.7h0M1446.8 261.4h0M1459.8 286.1h0M1353.7 240.1h0M1419.4 186.6h0M1457.8 304.5h0M1551.6 263.0h0M1484.8 302.0h0M1378.6 289.9h0M1529.4 152.0h0M1499.7 342.7h0M1514.1 352.2h0M1541.2 145.6h0M1470.9 276.8h0M1496.0 165.9h0M1579.1 274.6h0M1404.8 202.2h0M1506.8 160.7h0M1573.2 183.1h0M1492.5 253.7h0M1521.8 243.0h0M1520.8 114.3h0M1517.6 73.4h0M1401.6 334.8h0M1635.9 271.6h0M1481.0 210.7h0M1406.9 200.0h0M1450.7 306.0h0M1559.0 263.7h0M1519.1 101.0h0M1389.3 262.0h0M1544.0 294.5h0M1607.5 188.3h0M1493.5 262.6h0M1615.2 283.6h0M1504.8 162.4h0M1452.9 257.2h0M1606.0 229.8h0M1456.9 292.9h0M1545.9 344.2h0M1482.8 328.9h0M1515.8 139.1h0M1377.9 297.5h0M1472.2 70.5h0M1582.1 331.6h0M1505.7 338.6h0M1428.3 352.7h0M1551.9 198.0h0M1416.8 285.0h0M1567.0 216.1h0M1476.6 268.2h0M1390.2 320.6h0M1535.5 297.4h0M1523.8 362.0h0M1565.7 323.9h0M1611.6 143.6h0M1572.0 245.7h0M1548.3 227.6h0M1574.3 314.9h0M1549.6 169.4h0M1587.4 275.1h0M1532.2 254.8h0M1535.9 170.3h0M1369.9 159.1h0M1534.5 175.1h0M1468.2 258.0h0M1537.3 154.5h0M1432.0 236.3h0M1505.7 270.9h0M1427.3 91.0h0M1548.5 73.4h0M1463.2 162.2h0M1606.3 272.8h0M1563.1 97.2h0M1388.0 122.7h0M1390.0 298.1h0M1442.3 288.7h0M1473.9 163.7h0M1534.0 199.5h0M1383.3 247.5h0M1401.2 229.4h0M1475.1 67.4h0M1501.0 292.4h0M1489.2 115.6h0M1401.0 326.5h0M1566.4 140.1h0M1366.5 248.8h0M1573.0 152.9h0M1577.2 201.0h0M1423.4 84.4h0M1611.2 284.9h0M1464.5 102.0h0M1623.8 191.7h0M1545.4 184.9h0M1519.9 107.8h0M1469.6 107.3h0M1449.9 302.9h0M1648.1 247.7h0M1436.8 235.2h0M1514.1 288.9h0M1386.0 266.4h0M1419.0 203.6h0M1647.0 198.2h0M1449.4 169.7h0M1504.5 300.8h0M1426.7 349.3h0M1404.4 228.3h0M1385.8 129.7h0M1601.7 154.3h0M1632.9 176.5h0M1597.8 167.1h0M1571.4 142.8h0M1377.8 152.6h0M1430.4 186.0h0M1451.5 301.1h0M1537.5 327.4h0M1367.0 287.0h0M1470.4 234.4h0M1486.0 126.5h0M1484.6 244.6h0M1422.0 227.0h0M1430.1 159.8h0M1572.8 289.4h0M1480.5 278.5h0M1375.4 179.8h0M1615.1 215.1h0M1502.0 241.3h0M1371.0 144.3h0M1601.2 227.8h0M1369.8 252.2h0M1519.8 319.5h0M1363.8 169.8h0M1539.9 101.5h0M1525.2 65.2h0M1461.8 298.6h0M1500.0 218.9h0M1365.9 179.7h0M1405.0 97.5h0M1425.4 274.1h0M1394.1 260.8h0M1487.7 241.9h0M1488.4 325.6h0M1587.7 261.5h0M1403.4 98.0h0M1510.6 107.3h0M1414.4 188.7h0M1484.3 152.8h0M1484.3 241.3h0M1599.8 266.7h0M1527.5 183.3h0M1433.0 298.3h0M1518.8 132.2h0M1580.5 268.1h0M1352.2 206.9h0M1557.3 224.8h0M1433.9 114.0h0M1491.9 366.6h0M1408.3 149.0h0M1447.7 350.8h0M1494.7 105.0h0M1553.0 66.7h0M1605.0 220.9h0M1580.1 203.8h0M1620.5 132.6h0M1419.1 220.8h0M1483.0 158.8h0M1481.7 316.9h0M1522.8 133.9h0M1454.6 258.3h0M1413.2 192.7h0M1403.1 272.2h0M1594.5 212.1h0M1399.0 221.8h0M1540.1 318.4h0M1569.3 106.0h0M1398.2 157.3h0M1616.9 163.6h0M1531.8 216.7h0M1460.8 195.3h0M1416.6 318.2h0M1634.3 218.4h0M1571.4 81.6h0M1397.7 320.7h0M1592.8 140.3h0M1398.6 223.1h0M1524.4 184.1h0M1514.5 207.8h0M1397.2 288.9h0M1393.6 225.9h0M1396.0 254.2h0M1627.3 214.6h0M1360.8 210.6h0M1536.7 228.5h0M1380.0 162.7h0M1615.6 183.0h0M1575.0 79.4h0M1520.5 227.3h0M1427.5 115.5h0M1493.8 163.7h0M1471.1 120.0h0M1505.5 359.8h0M1371.8 289.6h0M1366.8 277.4h0M1512.7 141.8h0M1545.1 139.6h0M1580.7 167.5h0M1573.6 79.1h0M1462.9 300.6h0M1617.5 309.9h0M1514.6 92.2h0M1544.6 79.4h0M1468.0 93.3h0M1424.4 286.1h0M1429.0 282.4h0M1490.9 101.0h0M1399.6 205.7h0M1466.1 105.2h0M1538.1 75.7h0M1495.9 279.6h0M1497.2 330.9h0M1574.2 300.3h0M1477.4 95.8h0M1411.8 292.0h0M1541.8 322.7h0M1467.9 143.9h0M1569.3 257.3h0M1504.4 265.0h0M1630.1 179.2h0M1615.0 201.5h0M1571.9 182.3h0M1404.5 238.1h0M1574.9 195.7h0M1555.8 77.7h0M1624.7 154.2h0M1569.1 278.3h0M1601.8 247.4h0M1494.5 82.5h0M1521.3 256.2h0M1547.5 294.6h0M1540.7 341.1h0M1533.4 324.3h0M1561.7 321.3h0M1531.7 218.9h0M1428.5 171.4h0M1447.8 149.9h0M1453.7 131.1h0M1552.6 67.2h0M1425.2 174.1h0M1485.5 177.9h0M1603.2 156.8h0M1470.2 256.4h0M1568.2 350.2h0M1634.3 163.9h0M1397.3 269.7h0M1621.9 267.7h0M1615.4 116.9h0M1391.8 194.6h0M1402.8 112.3h0M1495.7 184.4h0M1583.1 316.8h0M1598.4 240.5h0M1450.9 98.9h0M1565.7 235.9h0M1611.1 266.1h0M1395.9 126.4h0M1494.0 123.3h0M1489.9 198.1h0M1482.4 307.1h0M1631.8 192.6h0M1476.6 139.4h0M1442.1 197.9h0M1632.5 251.9h0M1593.4 235.5h0M1502.0 304.3h0M1412.5 309.9h0M1580.3 130.6h0M1534.3 308.0h0M1374.8 288.2h0M1589.7 215.2h0M1613.4 108.9h0M1366.2 218.9h0" fill="none" stroke="#e6e3e3" stroke-width="2.9" stroke-linecap="round" stroke-opacity="0.9"/>
</g>
<rect x="1312" y="25" width="53.7" height="81.8" fill="#fff"/>
<text x="1328" y="85.3" font-size="64">i</text>
<g clip-path="url(#cp2)"><g filter="url(#soft)">
<rect x="1696" y="18" width="396.7" height="395" fill="#3b3b3b"/>
<ellipse cx="1800" cy="60" rx="120" ry="40" fill="#2d2d2d" opacity="0.8" filter="url(#bl8)"/>
<ellipse cx="1892" cy="215.3" rx="180" ry="174.5" fill="url(#rim2)"/>
<ellipse cx="1892" cy="215.3" rx="176" ry="170.5" fill="none" stroke="#ececec" stroke-width="4" opacity="0.8"/>
<ellipse cx="1893.5" cy="215.3" rx="169.5" ry="165" fill="none" stroke="#b4b5b3" stroke-width="2.5"/>
<ellipse cx="1894" cy="215.8" rx="165" ry="161" fill="url(#ag2)"/>
<path d="M2005 135 l28 22 M2012 150 l14 16" stroke="#6f716e" stroke-width="7" stroke-linecap="round" opacity="0.7" filter="url(#bl2)"/>
<path d="M1887.3 55.2h0M1903.5 61.4h0M1860.0 70.3h0M1876.2 69.6h0M1881.1 75.0h0M1917.9 74.0h0M1848.1 78.3h0M1822.8 85.0h0M1855.6 84.0h0M1876.7 82.5h0M1895.5 84.5h0M1920.9 84.5h0M1925.8 86.5h0M1928.3 89.9h0M1971.7 83.5h0M1798.5 87.4h0M1866.2 89.4h0M1874.9 88.9h0M1882.4 88.9h0M1884.9 94.4h0M1959.3 91.4h0M1955.6 97.4h0M1845.6 97.4h0M1992.8 97.4h0M1999.0 95.6h0M1775.1 99.9h0M1876.7 106.3h0M1905.0 104.6h0M1852.6 109.8h0M1965.5 109.8h0M1981.7 109.3h0M1812.9 114.3h0M1828.5 112.0h0M1822.1 117.2h0M1765.7 124.2h0M1814.1 125.4h0M1876.9 125.9h0M1928.8 124.7h0M1955.1 122.9h0M1962.3 125.9h0M1972.5 121.7h0M1984.1 128.7h0M1990.4 123.7h0M1994.1 124.7h0M1893.5 130.4h0M1857.6 132.6h0M1955.1 132.4h0M2021.4 130.4h0M2025.6 136.6h0M1816.6 136.6h0M1824.0 136.6h0M1835.2 139.1h0M1852.6 140.3h0M1848.9 145.3h0M1932.0 136.1h0M1917.9 140.3h0M1979.7 139.6h0M1771.9 142.6h0M1892.3 147.0h0M1906.7 148.5h0M1915.9 147.0h0M1960.6 146.5h0M1975.5 151.0h0M2006.5 155.7h0M1813.4 155.2h0M1808.7 161.4h0M1904.2 157.0h0M1887.3 158.9h0M2019.6 165.9h0M1996.1 165.9h0M1888.6 168.4h0M1915.9 170.9h0M1963.0 169.4h0M1981.7 173.1h0M1907.9 175.1h0M1887.3 175.1h0M1841.4 176.3h0M1958.1 177.6h0M1950.1 179.3h0M1762.5 178.3h0M1760.0 184.3h0M1861.8 181.8h0M1786.1 185.0h0M1795.5 187.5h0M1803.7 185.7h0M1820.1 185.7h0M2012.7 185.7h0M2018.9 190.0h0M2042.5 188.2h0M1969.8 188.2h0M1804.9 193.2h0M1816.8 193.7h0M1999.0 193.2h0M1942.7 195.4h0M1798.5 200.1h0M1909.2 200.1h0M2023.9 199.9h0M2044.5 199.1h0M1853.8 204.1h0M1887.3 205.6h0M1904.0 206.1h0M1914.6 208.1h0M1919.6 207.6h0M2013.4 206.1h0M1743.6 209.8h0M1852.6 212.3h0M1876.2 213.0h0M1886.8 216.0h0M1815.4 214.0h0M1732.2 214.0h0M1769.9 216.5h0M1763.2 220.0h0M1894.8 220.2h0M1919.1 220.5h0M1985.9 217.3h0M1997.1 220.2h0M2040.0 214.0h0M2023.4 225.5h0M2012.7 229.7h0M2037.5 228.4h0M1799.7 228.4h0M1739.6 230.9h0M1992.1 232.4h0M2045.7 234.1h0M1933.3 234.6h0M1933.3 238.4h0M1836.0 238.4h0M1942.0 247.1h0M1953.6 247.8h0M1874.2 247.8h0M2043.7 247.1h0M1859.5 255.7h0M1940.0 255.0h0M1953.1 257.0h0M2021.4 255.7h0M1973.7 259.0h0M1790.5 257.7h0M1798.5 257.0h0M1801.7 257.0h0M1933.3 262.4h0M1843.2 263.9h0M1790.0 266.9h0M1982.9 268.9h0M2003.3 269.4h0M1763.2 270.1h0M1809.9 271.1h0M1787.6 272.6h0M1791.8 276.8h0M1825.3 274.4h0M1979.2 273.1h0M1853.8 276.8h0M1840.2 278.8h0M1915.1 276.3h0M1987.1 277.3h0M1954.4 278.8h0M2035.0 274.9h0M2012.2 280.1h0M1969.8 285.5h0M1861.3 289.3h0M1989.1 289.8h0M1820.3 291.7h0M1826.5 291.7h0M1851.8 293.0h0M1886.6 293.0h0M1918.9 294.2h0M1932.8 294.2h0M1978.7 293.0h0M2012.2 292.2h0M1803.7 297.2h0M1979.2 295.5h0M1973.0 299.4h0M1981.7 303.4h0M1788.0 305.4h0M1835.7 308.6h0M1914.6 310.4h0M1792.3 313.6h0M1937.0 314.8h0M1945.7 315.3h0M1978.7 314.8h0M1999.0 317.1h0M1993.3 318.5h0M1824.0 319.8h0M1830.2 319.5h0M1813.4 322.0h0M1804.9 323.8h0M1929.5 321.5h0M1887.8 329.5h0M1827.3 331.5h0M1913.4 334.7h0M1949.9 333.4h0M1961.8 336.9h0M1856.8 338.9h0M1867.5 339.4h0M1870.0 339.4h0M1838.4 341.4h0M1843.9 344.4h0M1832.2 346.3h0M1973.7 349.3h0M1916.6 350.6h0M1893.5 354.3h0M1850.1 363.2h0M1898.0 367.0h0M1945.2 365.5h0M1888.6 374.4h0" fill="none" stroke="#b4b5b2" stroke-width="5.8" stroke-linecap="round" stroke-opacity="0.55"/>
<path d="M1887.3 55.2h0M1903.5 61.4h0M1860.0 70.3h0M1876.2 69.6h0M1881.1 75.0h0M1917.9 74.0h0M1848.1 78.3h0M1822.8 85.0h0M1855.6 84.0h0M1876.7 82.5h0M1895.5 84.5h0M1920.9 84.5h0M1925.8 86.5h0M1928.3 89.9h0M1971.7 83.5h0M1798.5 87.4h0M1866.2 89.4h0M1874.9 88.9h0M1882.4 88.9h0M1884.9 94.4h0M1959.3 91.4h0M1955.6 97.4h0M1845.6 97.4h0M1992.8 97.4h0M1999.0 95.6h0M1775.1 99.9h0M1876.7 106.3h0M1905.0 104.6h0M1852.6 109.8h0M1965.5 109.8h0M1981.7 109.3h0M1812.9 114.3h0M1828.5 112.0h0M1822.1 117.2h0M1765.7 124.2h0M1814.1 125.4h0M1876.9 125.9h0M1928.8 124.7h0M1955.1 122.9h0M1962.3 125.9h0M1972.5 121.7h0M1984.1 128.7h0M1990.4 123.7h0M1994.1 124.7h0M1893.5 130.4h0M1857.6 132.6h0M1955.1 132.4h0M2021.4 130.4h0M2025.6 136.6h0M1816.6 136.6h0M1824.0 136.6h0M1835.2 139.1h0M1852.6 140.3h0M1848.9 145.3h0M1932.0 136.1h0M1917.9 140.3h0M1979.7 139.6h0M1771.9 142.6h0M1892.3 147.0h0M1906.7 148.5h0M1915.9 147.0h0M1960.6 146.5h0M1975.5 151.0h0M2006.5 155.7h0M1813.4 155.2h0M1808.7 161.4h0M1904.2 157.0h0M1887.3 158.9h0M2019.6 165.9h0M1996.1 165.9h0M1888.6 168.4h0M1915.9 170.9h0M1963.0 169.4h0M1981.7 173.1h0M1907.9 175.1h0M1887.3 175.1h0M1841.4 176.3h0M1958.1 177.6h0M1950.1 179.3h0M1762.5 178.3h0M1760.0 184.3h0M1861.8 181.8h0M1786.1 185.0h0M1795.5 187.5h0M1803.7 185.7h0M1820.1 185.7h0M2012.7 185.7h0M2018.9 190.0h0M2042.5 188.2h0M1969.8 188.2h0M1804.9 193.2h0M1816.8 193.7h0M1999.0 193.2h0M1942.7 195.4h0M1798.5 200.1h0M1909.2 200.1h0M2023.9 199.9h0M2044.5 199.1h0M1853.8 204.1h0M1887.3 205.6h0M1904.0 206.1h0M1914.6 208.1h0M1919.6 207.6h0M2013.4 206.1h0M1743.6 209.8h0M1852.6 212.3h0M1876.2 213.0h0M1886.8 216.0h0M1815.4 214.0h0M1732.2 214.0h0M1769.9 216.5h0M1763.2 220.0h0M1894.8 220.2h0M1919.1 220.5h0M1985.9 217.3h0M1997.1 220.2h0M2040.0 214.0h0M2023.4 225.5h0M2012.7 229.7h0M2037.5 228.4h0M1799.7 228.4h0M1739.6 230.9h0M1992.1 232.4h0M2045.7 234.1h0M1933.3 234.6h0M1933.3 238.4h0M1836.0 238.4h0M1942.0 247.1h0M1953.6 247.8h0M1874.2 247.8h0M2043.7 247.1h0M1859.5 255.7h0M1940.0 255.0h0M1953.1 257.0h0M2021.4 255.7h0M1973.7 259.0h0M1790.5 257.7h0M1798.5 257.0h0M1801.7 257.0h0M1933.3 262.4h0M1843.2 263.9h0M1790.0 266.9h0M1982.9 268.9h0M2003.3 269.4h0M1763.2 270.1h0M1809.9 271.1h0M1787.6 272.6h0M1791.8 276.8h0M1825.3 274.4h0M1979.2 273.1h0M1853.8 276.8h0M1840.2 278.8h0M1915.1 276.3h0M1987.1 277.3h0M1954.4 278.8h0M2035.0 274.9h0M2012.2 280.1h0M1969.8 285.5h0M1861.3 289.3h0M1989.1 289.8h0M1820.3 291.7h0M1826.5 291.7h0M1851.8 293.0h0M1886.6 293.0h0M1918.9 294.2h0M1932.8 294.2h0M1978.7 293.0h0M2012.2 292.2h0M1803.7 297.2h0M1979.2 295.5h0M1973.0 299.4h0M1981.7 303.4h0M1788.0 305.4h0M1835.7 308.6h0M1914.6 310.4h0M1792.3 313.6h0M1937.0 314.8h0M1945.7 315.3h0M1978.7 314.8h0M1999.0 317.1h0M1993.3 318.5h0M1824.0 319.8h0M1830.2 319.5h0M1813.4 322.0h0M1804.9 323.8h0M1929.5 321.5h0M1887.8 329.5h0M1827.3 331.5h0M1913.4 334.7h0M1949.9 333.4h0M1961.8 336.9h0M1856.8 338.9h0M1867.5 339.4h0M1870.0 339.4h0M1838.4 341.4h0M1843.9 344.4h0M1832.2 346.3h0M1973.7 349.3h0M1916.6 350.6h0M1893.5 354.3h0M1850.1 363.2h0M1898.0 367.0h0M1945.2 365.5h0M1888.6 374.4h0" fill="none" stroke="#dadad6" stroke-width="3.6" stroke-linecap="round"/>
</g></g>
<rect x="1703" y="25" width="58" height="82.5" fill="#fff"/>
<text x="1707" y="87" font-size="62">ii</text>
<g clip-path="url(#cp3)"><g filter="url(#soft)">
<rect x="2083" y="18" width="397" height="395" fill="#3a3a3a"/>
<ellipse cx="2278" cy="219" rx="177" ry="177" fill="url(#rim3)"/>
<ellipse cx="2278" cy="219" rx="173" ry="173" fill="none" stroke="#eaeaea" stroke-width="4" opacity="0.8"/>
<ellipse cx="2279" cy="219" rx="166.5" ry="166.5" fill="none" stroke="#b0aeac" stroke-width="2.5"/>
<ellipse cx="2279.5" cy="219" rx="161" ry="162" fill="url(#ag3)"/>
<path d="M2293.7 73.8h0M2214.8 79.0h0M2227.2 84.5h0M2304.9 86.2h0M2289.5 95.1h0M2213.0 111.0h0M2186.0 115.0h0M2249.8 118.0h0M2318.8 117.7h0M2198.9 126.2h0M2262.4 128.7h0M2310.1 130.1h0M2344.1 130.1h0M2369.4 129.4h0M2408.6 134.1h0M2192.7 134.1h0M2213.5 134.6h0M2182.0 138.3h0M2227.4 137.3h0M2211.1 140.3h0M2318.8 137.1h0M2205.6 147.0h0M2311.1 147.3h0M2180.8 153.7h0M2201.4 153.7h0M2227.4 153.0h0M2211.3 157.2h0M2258.5 155.2h0M2285.3 154.7h0M2298.9 154.7h0M2337.4 158.7h0M2270.4 164.1h0M2306.9 171.3h0M2344.4 172.3h0M2276.3 178.5h0M2291.5 178.5h0M2301.7 178.0h0M2169.6 184.5h0M2156.7 193.2h0M2246.1 192.4h0M2319.0 192.4h0M2264.2 200.9h0M2209.8 201.6h0M2187.7 206.8h0M2197.9 214.0h0M2248.5 213.8h0M2319.3 219.3h0M2278.8 234.9h0M2272.9 241.6h0M2285.8 242.6h0M2301.7 242.3h0M2275.8 261.7h0M2343.9 261.5h0M2343.9 266.4h0M2195.7 264.2h0M2216.3 263.9h0M2241.3 269.9h0M2306.1 270.1h0M2165.9 276.3h0M2250.5 282.8h0M2177.5 288.3h0M2225.0 292.0h0M2207.3 295.0h0M2239.1 301.4h0M2395.2 298.7h0M2221.2 309.9h0M2247.5 309.9h0M2353.8 313.8h0M2394.5 313.3h0M2298.4 318.3h0M2363.0 320.5h0M2233.4 328.5h0M2386.3 332.4h0M2261.0 339.1h0M2230.7 344.1h0M2291.7 343.6h0M2343.6 344.1h0M2334.4 347.8h0M2297.7 350.8h0M2296.7 358.3h0M2338.9 363.0h0M2285.5 373.9h0" fill="none" stroke="#b0acab" stroke-width="5.8" stroke-linecap="round" stroke-opacity="0.55"/>
<path d="M2293.7 73.8h0M2214.8 79.0h0M2227.2 84.5h0M2304.9 86.2h0M2289.5 95.1h0M2213.0 111.0h0M2186.0 115.0h0M2249.8 118.0h0M2318.8 117.7h0M2198.9 126.2h0M2262.4 128.7h0M2310.1 130.1h0M2344.1 130.1h0M2369.4 129.4h0M2408.6 134.1h0M2192.7 134.1h0M2213.5 134.6h0M2182.0 138.3h0M2227.4 137.3h0M2211.1 140.3h0M2318.8 137.1h0M2205.6 147.0h0M2311.1 147.3h0M2180.8 153.7h0M2201.4 153.7h0M2227.4 153.0h0M2211.3 157.2h0M2258.5 155.2h0M2285.3 154.7h0M2298.9 154.7h0M2337.4 158.7h0M2270.4 164.1h0M2306.9 171.3h0M2344.4 172.3h0M2276.3 178.5h0M2291.5 178.5h0M2301.7 178.0h0M2169.6 184.5h0M2156.7 193.2h0M2246.1 192.4h0M2319.0 192.4h0M2264.2 200.9h0M2209.8 201.6h0M2187.7 206.8h0M2197.9 214.0h0M2248.5 213.8h0M2319.3 219.3h0M2278.8 234.9h0M2272.9 241.6h0M2285.8 242.6h0M2301.7 242.3h0M2275.8 261.7h0M2343.9 261.5h0M2343.9 266.4h0M2195.7 264.2h0M2216.3 263.9h0M2241.3 269.9h0M2306.1 270.1h0M2165.9 276.3h0M2250.5 282.8h0M2177.5 288.3h0M2225.0 292.0h0M2207.3 295.0h0M2239.1 301.4h0M2395.2 298.7h0M2221.2 309.9h0M2247.5 309.9h0M2353.8 313.8h0M2394.5 313.3h0M2298.4 318.3h0M2363.0 320.5h0M2233.4 328.5h0M2386.3 332.4h0M2261.0 339.1h0M2230.7 344.1h0M2291.7 343.6h0M2343.6 344.1h0M2334.4 347.8h0M2297.7 350.8h0M2296.7 358.3h0M2338.9 363.0h0M2285.5 373.9h0" fill="none" stroke="#d8d6d3" stroke-width="3.6" stroke-linecap="round"/>
</g></g>
<rect x="2090" y="25" width="68.4" height="91" fill="#fff"/>
<text x="2097.5" y="91.2" font-size="62">iii</text>
<text x="1224.5" y="130" font-size="102">C</text>
<rect x="1575" y="520.2" width="208" height="355.1" fill="#000"/>
<rect x="1570" y="566.7" width="218" height="8.2" fill="#fff"/>
<rect x="1824.2" y="693.7" width="208.3" height="181.6" fill="#00f"/>
<rect x="2073" y="785.5" width="209" height="89.8" fill="#f00"/>
<line x1="1679.5" y1="495" x2="1679.5" y2="521" stroke="#000" stroke-width="4.4"/>
<line x1="1671.5" y1="495" x2="1687.5" y2="495" stroke="#000" stroke-width="4.6"/>
<line x1="1928" y1="686.5" x2="1928" y2="700.5" stroke="#000" stroke-width="5"/>
<line x1="1920.0" y1="686.5" x2="1936.0" y2="686.5" stroke="#000" stroke-width="5"/>
<line x1="1920.0" y1="700.5" x2="1936.0" y2="700.5" stroke="#000" stroke-width="5"/>
<line x1="2177.4" y1="780.5" x2="2177.4" y2="792.5" stroke="#000" stroke-width="5"/>
<line x1="2169.4" y1="780.5" x2="2185.4" y2="780.5" stroke="#000" stroke-width="5"/>
<line x1="2169.4" y1="792.5" x2="2185.4" y2="792.5" stroke="#000" stroke-width="5"/>
<line x1="1399.3" y1="446" x2="1399.3" y2="877.8" stroke="#000" stroke-width="5.5"/>
<line x1="1387.3" y1="875.3" x2="2459.2" y2="875.3" stroke="#000" stroke-width="6"/>
<line x1="1385.3" y1="449.5" x2="1399.3" y2="449.5" stroke="#000" stroke-width="4.5"/>
<text x="1381.3" y="458.9" font-size="35.5" text-anchor="end">3500</text>
<line x1="1385.3" y1="508.3" x2="1399.3" y2="508.3" stroke="#000" stroke-width="4.5"/>
<text x="1381.3" y="517.7" font-size="35.5" text-anchor="end">3000</text>
<text x="1381.3" y="576.1" font-size="35.5" text-anchor="end">2500</text>
<line x1="1385.3" y1="675" x2="1399.3" y2="675" stroke="#000" stroke-width="4.5"/>
<text x="1381.3" y="684.4" font-size="35.5" text-anchor="end">200</text>
<line x1="1385.3" y1="775" x2="1399.3" y2="775" stroke="#000" stroke-width="4.5"/>
<text x="1381.3" y="784.4" font-size="35.5" text-anchor="end">100</text>
<line x1="1385.3" y1="875.3" x2="1399.3" y2="875.3" stroke="#000" stroke-width="4.5"/>
<text x="1381.3" y="884.6999999999999" font-size="35.5" text-anchor="end">0</text>
<line x1="1391.3" y1="478" x2="1399.3" y2="478" stroke="#000" stroke-width="4"/>
<line x1="1391.3" y1="537.7" x2="1399.3" y2="537.7" stroke="#000" stroke-width="4"/>
<line x1="1391.3" y1="624.9" x2="1399.3" y2="624.9" stroke="#000" stroke-width="4"/>
<line x1="1391.3" y1="725" x2="1399.3" y2="725" stroke="#000" stroke-width="4"/>
<line x1="1391.3" y1="826" x2="1399.3" y2="826" stroke="#000" stroke-width="4"/>
<line x1="1387" y1="570.5" x2="1412.5" y2="563" stroke="#000" stroke-width="3.5"/>
<line x1="1387" y1="579" x2="1412.5" y2="571.5" stroke="#000" stroke-width="3.5"/>
<rect x="1413.3" y="441.2" width="74.5" height="84" fill="#fff" stroke="#000" stroke-width="3.6"/>
<text x="1432" y="501.5" font-size="64">iv</text>
<rect x="2142" y="495.5" width="80" height="30.0" fill="#000"/>
<text x="2235" y="521.7" font-size="41" textLength="125.5" lengthAdjust="spacing">control</text>
<rect x="2142" y="548.7" width="80" height="29.9" fill="#00f"/>
<text x="2235" y="574.9" font-size="41" textLength="165" lengthAdjust="spacing">Ti-CoHA</text>
<rect x="2142" y="600.5" width="80" height="31.0" fill="#f00"/>
<text x="2235" y="627.7" font-size="41" textLength="212" lengthAdjust="spacing">TNT-CoHA</text>
<text x="1929" y="660.6" font-size="44" text-anchor="middle" font-weight="normal">#</text>
<text x="2186" y="752.7" font-size="44" text-anchor="middle" font-weight="normal">#,##</text>
<text x="1292.5" y="656.5" font-size="52" text-anchor="middle" transform="rotate(-90 1292.5 656.5)">CFU/mL</text>
</g>
<g id="panelD" filter="url(#fD)">
<polyline points="1448.6,1591.6 1454.4,1346.6 1480.7,1133.7 1512.8,1101.5 1545.0,1105.5 1577.1,1105.5 1609.2,1081.4 1641.3,1081.4 1673.4,1073.4 1705.6,1061.3 1737.7,1061.3 1769.8,1069.4 1801.9,1077.4 1834.0,1081.4 1866.2,1073.4 1898.3,1081.4 1930.4,1089.5 1962.5,1089.5 1994.6,1089.5 2026.8,1077.4 2058.9,1077.4 2091.0,1073.4 2123.1,1073.4 2155.2,1077.4 2187.4,1077.4 2219.5,1081.4 2251.6,1085.5 2283.7,1085.5 2315.8,1085.5 2348.0,1081.4" fill="none" stroke="#00f" stroke-width="4.6" stroke-linejoin="round"/>
<path d="M1439.3 1582.3h18.6v18.6h-18.6zM1445.1 1337.3h18.6v18.6h-18.6zM1471.4 1124.4h18.6v18.6h-18.6zM1503.5 1092.2h18.6v18.6h-18.6zM1535.7 1096.2h18.6v18.6h-18.6zM1567.8 1096.2h18.6v18.6h-18.6zM1599.9 1072.1h18.6v18.6h-18.6zM1632.0 1072.1h18.6v18.6h-18.6zM1664.1 1064.1h18.6v18.6h-18.6zM1696.3 1052.0h18.6v18.6h-18.6zM1728.4 1052.0h18.6v18.6h-18.6zM1760.5 1060.1h18.6v18.6h-18.6zM1792.6 1068.1h18.6v18.6h-18.6zM1824.7 1072.1h18.6v18.6h-18.6zM1856.9 1064.1h18.6v18.6h-18.6zM1889.0 1072.1h18.6v18.6h-18.6zM1921.1 1080.2h18.6v18.6h-18.6zM1953.2 1080.2h18.6v18.6h-18.6zM1985.3 1080.2h18.6v18.6h-18.6zM2017.5 1068.1h18.6v18.6h-18.6zM2049.6 1068.1h18.6v18.6h-18.6zM2081.7 1064.1h18.6v18.6h-18.6zM2113.8 1064.1h18.6v18.6h-18.6zM2145.9 1068.1h18.6v18.6h-18.6zM2178.1 1068.1h18.6v18.6h-18.6zM2210.2 1072.1h18.6v18.6h-18.6zM2242.3 1076.2h18.6v18.6h-18.6zM2274.4 1076.2h18.6v18.6h-18.6zM2306.5 1076.2h18.6v18.6h-18.6zM2338.7 1072.1h18.6v18.6h-18.6z" fill="#00f"/>
<polyline points="1448.6,1591.6 1454.4,1266.2 1480.7,1189.9 1512.8,1153.7 1545.0,1141.7 1577.1,1137.7 1609.2,1125.6 1641.3,1133.7 1673.4,1145.7 1705.6,1145.7 1737.7,1157.8 1769.8,1161.8 1801.9,1157.8 1834.0,1165.8 1866.2,1173.8 1898.3,1181.9 1930.4,1193.9 1962.5,1206.0 1994.6,1201.9 2026.8,1210.0 2058.9,1214.0 2091.0,1222.0 2123.1,1226.0 2155.2,1234.1 2187.4,1246.1 2219.5,1250.1 2251.6,1266.2 2283.7,1294.3 2315.8,1302.4 2348.0,1302.4" fill="none" stroke="#f00" stroke-width="4.6" stroke-linejoin="round"/>
<path d="M1448.6 1577.1l13.3 22.3h-26.6zM1454.4 1251.7l13.3 22.3h-26.6zM1480.7 1175.4l13.3 22.3h-26.6zM1512.8 1139.2l13.3 22.3h-26.6zM1545.0 1127.2l13.3 22.3h-26.6zM1577.1 1123.2l13.3 22.3h-26.6zM1609.2 1111.1l13.3 22.3h-26.6zM1641.3 1119.2l13.3 22.3h-26.6zM1673.4 1131.2l13.3 22.3h-26.6zM1705.6 1131.2l13.3 22.3h-26.6zM1737.7 1143.3l13.3 22.3h-26.6zM1769.8 1147.3l13.3 22.3h-26.6zM1801.9 1143.3l13.3 22.3h-26.6zM1834.0 1151.3l13.3 22.3h-26.6zM1866.2 1159.3l13.3 22.3h-26.6zM1898.3 1167.4l13.3 22.3h-26.6zM1930.4 1179.4l13.3 22.3h-26.6zM1962.5 1191.5l13.3 22.3h-26.6zM1994.6 1187.4l13.3 22.3h-26.6zM2026.8 1195.5l13.3 22.3h-26.6zM2058.9 1199.5l13.3 22.3h-26.6zM2091.0 1207.5l13.3 22.3h-26.6zM2123.1 1211.5l13.3 22.3h-26.6zM2155.2 1219.6l13.3 22.3h-26.6zM2187.4 1231.6l13.3 22.3h-26.6zM2219.5 1235.6l13.3 22.3h-26.6zM2251.6 1251.7l13.3 22.3h-26.6zM2283.7 1279.8l13.3 22.3h-26.6zM2315.8 1287.9l13.3 22.3h-26.6zM2348.0 1287.9l13.3 22.3h-26.6z" fill="#f00"/>
<line x1="1400.2" y1="963.4" x2="1400.2" y2="1691.3" stroke="#000" stroke-width="5"/>
<line x1="1384.7" y1="1689.0" x2="2463" y2="1689.0" stroke="#000" stroke-width="4.6"/>
<text x="1378" y="1699.5" font-size="38.5" text-anchor="end">7.4</text>
<line x1="1385.7" y1="1608.7" x2="1400.2" y2="1608.7" stroke="#000" stroke-width="4.2"/>
<text x="1378" y="1619.2" font-size="38.5" text-anchor="end">7.6</text>
<line x1="1385.7" y1="1528.3" x2="1400.2" y2="1528.3" stroke="#000" stroke-width="4.2"/>
<text x="1378" y="1538.8" font-size="38.5" text-anchor="end">7.8</text>
<line x1="1385.7" y1="1448.0" x2="1400.2" y2="1448.0" stroke="#000" stroke-width="4.2"/>
<text x="1378" y="1458.5" font-size="38.5" text-anchor="end">8.0</text>
<line x1="1385.7" y1="1367.6" x2="1400.2" y2="1367.6" stroke="#000" stroke-width="4.2"/>
<text x="1378" y="1378.1" font-size="38.5" text-anchor="end">8.2</text>
<line x1="1385.7" y1="1287.3" x2="1400.2" y2="1287.3" stroke="#000" stroke-width="4.2"/>
<text x="1378" y="1297.8" font-size="38.5" text-anchor="end">8.4</text>
<line x1="1385.7" y1="1207.0" x2="1400.2" y2="1207.0" stroke="#000" stroke-width="4.2"/>
<text x="1378" y="1217.5" font-size="38.5" text-anchor="end">8.6</text>
<line x1="1385.7" y1="1126.6" x2="1400.2" y2="1126.6" stroke="#000" stroke-width="4.2"/>
<text x="1378" y="1137.1" font-size="38.5" text-anchor="end">8.8</text>
<line x1="1385.7" y1="1046.3" x2="1400.2" y2="1046.3" stroke="#000" stroke-width="4.2"/>
<text x="1378" y="1056.8" font-size="38.5" text-anchor="end">9.0</text>
<line x1="1385.7" y1="965.9" x2="1400.2" y2="965.9" stroke="#000" stroke-width="4.2"/>
<text x="1378" y="976.4" font-size="38.5" text-anchor="end">9.2</text>
<line x1="1448.6" y1="1689.0" x2="1448.6" y2="1704.5" stroke="#000" stroke-width="5.5"/>
<text x="1448.6" y="1739.2" font-size="37.5" text-anchor="middle" class="sa" textLength="19.2" lengthAdjust="spacingAndGlyphs">0</text>
<line x1="1609.2" y1="1689.0" x2="1609.2" y2="1704.5" stroke="#000" stroke-width="5.5"/>
<text x="1609.2" y="1739.2" font-size="37.5" text-anchor="middle" class="sa" textLength="19.2" lengthAdjust="spacingAndGlyphs">5</text>
<line x1="1769.8" y1="1689.0" x2="1769.8" y2="1704.5" stroke="#000" stroke-width="5.5"/>
<text x="1769.8" y="1739.2" font-size="37.5" text-anchor="middle" class="sa" textLength="38.4" lengthAdjust="spacingAndGlyphs">10</text>
<line x1="1930.4" y1="1689.0" x2="1930.4" y2="1704.5" stroke="#000" stroke-width="5.5"/>
<text x="1930.4" y="1739.2" font-size="37.5" text-anchor="middle" class="sa" textLength="38.4" lengthAdjust="spacingAndGlyphs">15</text>
<line x1="2091.0" y1="1689.0" x2="2091.0" y2="1704.5" stroke="#000" stroke-width="5.5"/>
<text x="2091.0" y="1739.2" font-size="37.5" text-anchor="middle" class="sa" textLength="38.4" lengthAdjust="spacingAndGlyphs">20</text>
<line x1="2251.6" y1="1689.0" x2="2251.6" y2="1704.5" stroke="#000" stroke-width="5.5"/>
<text x="2251.6" y="1739.2" font-size="37.5" text-anchor="middle" class="sa" textLength="38.4" lengthAdjust="spacingAndGlyphs">25</text>
<line x1="2412.2" y1="1689.0" x2="2412.2" y2="1704.5" stroke="#000" stroke-width="5.5"/>
<text x="2412.2" y="1739.2" font-size="37.5" text-anchor="middle" class="sa" textLength="38.4" lengthAdjust="spacingAndGlyphs">30</text>
<line x1="1528.9" y1="1689.0" x2="1528.9" y2="1699.0" stroke="#000" stroke-width="3.6"/>
<line x1="1689.5" y1="1689.0" x2="1689.5" y2="1699.0" stroke="#000" stroke-width="3.6"/>
<line x1="1850.1" y1="1689.0" x2="1850.1" y2="1699.0" stroke="#000" stroke-width="3.6"/>
<line x1="2010.7" y1="1689.0" x2="2010.7" y2="1699.0" stroke="#000" stroke-width="3.6"/>
<line x1="2171.3" y1="1689.0" x2="2171.3" y2="1699.0" stroke="#000" stroke-width="3.6"/>
<line x1="2331.9" y1="1689.0" x2="2331.9" y2="1699.0" stroke="#000" stroke-width="3.6"/>
<text x="1804" y="1796" font-size="51" textLength="253.8" lengthAdjust="spacing">Time (Day)</text>
<text x="1291" y="1361.6" font-size="52" text-anchor="middle" transform="rotate(-90 1291 1361.6)" textLength="207" lengthAdjust="spacingAndGlyphs">pH value</text>
<text x="1225.5" y="1012.5" font-size="99">D</text>
<line x1="2111.4" y1="1502" x2="2198.7" y2="1502" stroke="#00f" stroke-width="5.5"/>
<rect x="2139.6" y="1487.2" width="30.3" height="29.8" fill="#00f"/>
<text x="2211.7" y="1514.6" font-size="47" textLength="187.3" lengthAdjust="spacingAndGlyphs">Ti-CoHA</text>
<line x1="2111.4" y1="1561.6" x2="2198.7" y2="1561.6" stroke="#f00" stroke-width="5.5"/>
<path d="M2155 1539.4l19.2 34.6h-38.4z" fill="#f00"/>
<text x="2211.7" y="1574.5" font-size="47" textLength="240.6" lengthAdjust="spacingAndGlyphs">TNT-CoHA</text>
</g>
</svg>
</body>
</html>
